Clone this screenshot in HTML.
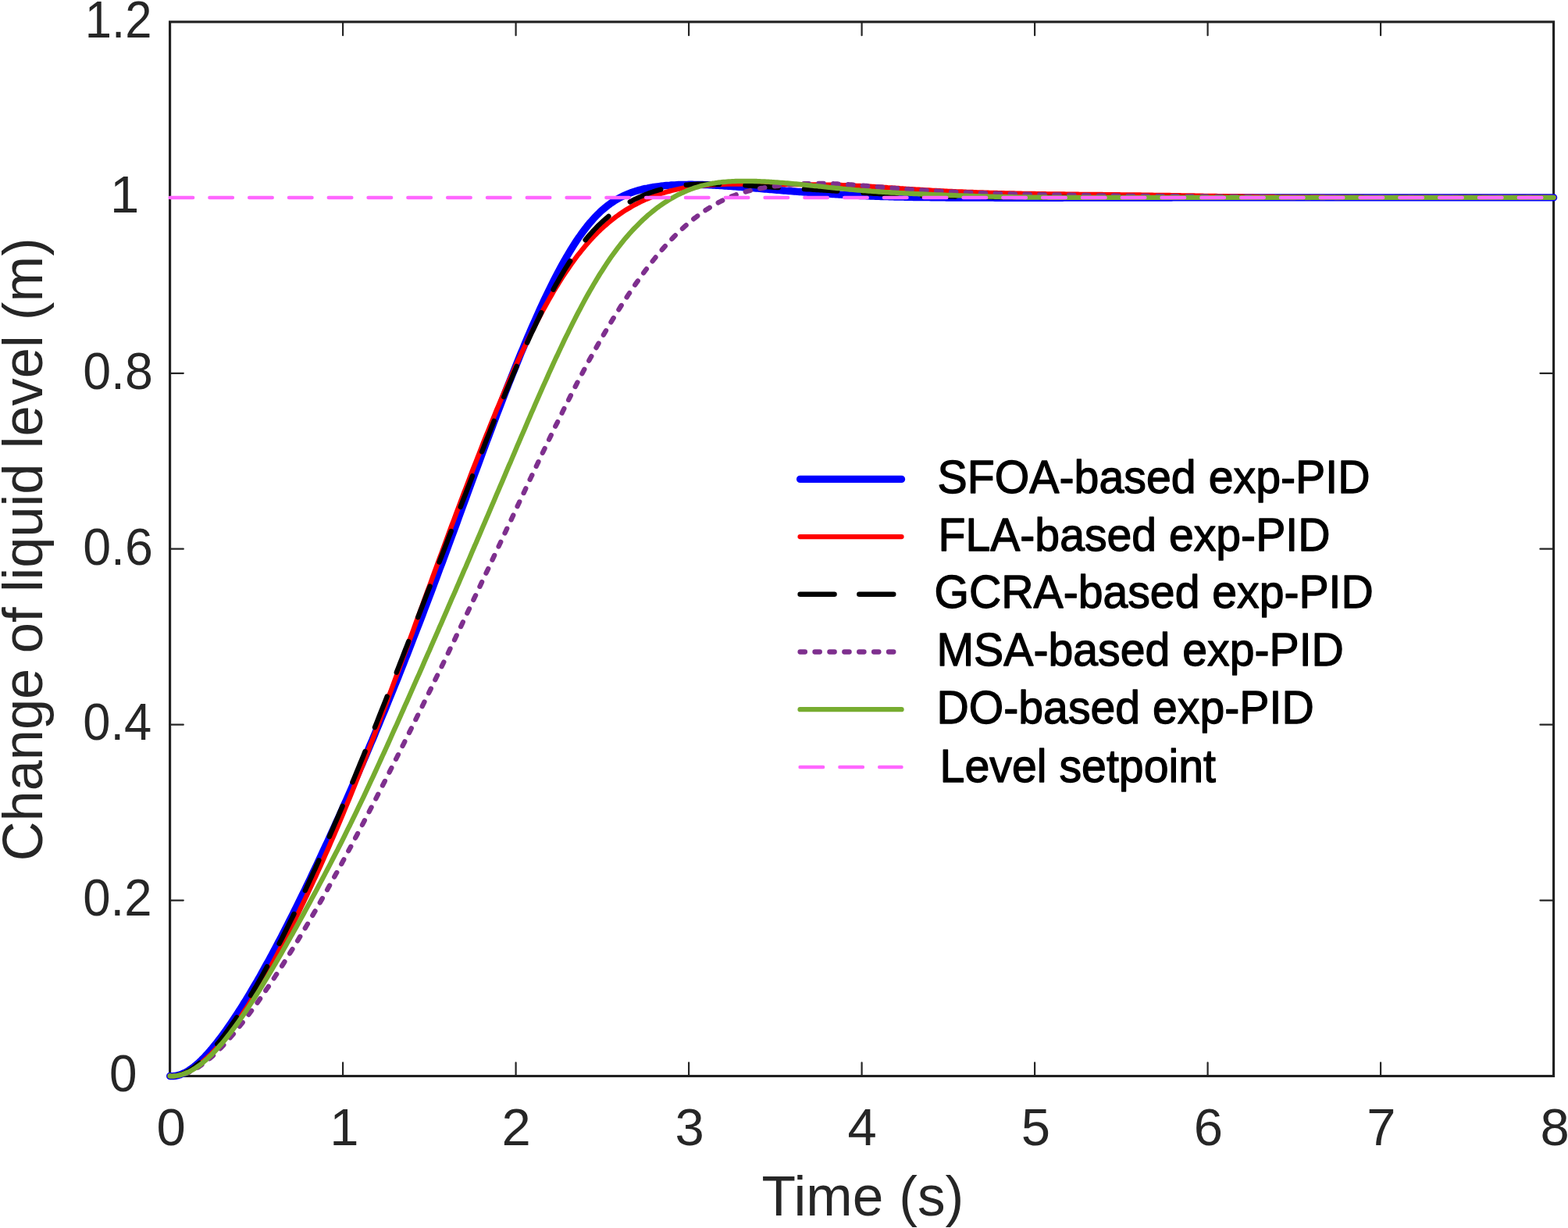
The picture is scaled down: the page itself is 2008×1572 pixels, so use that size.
<!DOCTYPE html>
<html><head><meta charset="utf-8"><title>Change of liquid level</title>
<style>html,body{margin:0;padding:0;background:#fff;}svg{display:block;}</style>
</head><body>
<svg width="2008" height="1572" viewBox="0 0 2008 1572">
<rect width="2008" height="1572" fill="#ffffff"/>
<path d="M217.6,1377.5 V1360.3 M217.6,28.0 V45.2 M439.1,1377.5 V1360.3 M439.1,28.0 V45.2 M660.6,1377.5 V1360.3 M660.6,28.0 V45.2 M882.1,1377.5 V1360.3 M882.1,28.0 V45.2 M1103.6,1377.5 V1360.3 M1103.6,28.0 V45.2 M1325.1,1377.5 V1360.3 M1325.1,28.0 V45.2 M1546.6,1377.5 V1360.3 M1546.6,28.0 V45.2 M1768.1,1377.5 V1360.3 M1768.1,28.0 V45.2 M1989.6,1377.5 V1360.3 M1989.6,28.0 V45.2 M217.6,1377.5 H234.8 M1989.6,1377.5 H1972.4 M217.6,1152.6 H234.8 M1989.6,1152.6 H1972.4 M217.6,927.7 H234.8 M1989.6,927.7 H1972.4 M217.6,702.7 H234.8 M1989.6,702.7 H1972.4 M217.6,477.8 H234.8 M1989.6,477.8 H1972.4 M217.6,252.9 H234.8 M1989.6,252.9 H1972.4 M217.6,28.0 H234.8 M1989.6,28.0 H1972.4" stroke="#262626" stroke-width="2.2" fill="none" stroke-linecap="round"/>
<rect x="217.6" y="28.0" width="1772.0" height="1349.5" fill="none" stroke="#1f1f1f" stroke-width="3.1"/>
<g fill="none" stroke-linecap="round" stroke-linejoin="round">
<path d="M217.6,1377.5 L219.8,1377.6 L222.0,1377.5 L224.2,1377.3 L226.5,1376.9 L228.7,1376.4 L230.9,1375.7 L233.1,1374.8 L235.3,1373.9 L237.5,1372.8 L239.8,1371.6 L242.0,1370.2 L244.2,1368.7 L246.4,1367.1 L248.6,1365.4 L250.8,1363.6 L253.0,1361.7 L255.3,1359.7 L257.5,1357.6 L259.7,1355.4 L261.9,1353.1 L264.1,1350.7 L266.3,1348.3 L268.5,1345.8 L270.8,1343.2 L273.0,1340.5 L275.2,1337.8 L277.4,1335.0 L279.6,1332.2 L281.8,1329.3 L284.1,1326.3 L286.3,1323.3 L288.5,1320.3 L290.7,1317.1 L292.9,1314.0 L295.1,1310.8 L297.3,1307.5 L299.6,1304.2 L301.8,1300.9 L304.0,1297.5 L306.2,1294.1 L308.4,1290.6 L310.6,1287.1 L312.8,1283.5 L315.1,1280.0 L317.3,1276.3 L319.5,1272.7 L321.7,1269.0 L323.9,1265.2 L326.1,1261.5 L328.4,1257.7 L330.6,1253.8 L332.8,1250.0 L335.0,1246.0 L337.2,1242.1 L339.4,1238.1 L341.6,1234.1 L343.9,1230.1 L346.1,1226.0 L348.3,1221.9 L350.5,1217.8 L352.7,1213.6 L354.9,1209.5 L357.1,1205.2 L359.4,1201.0 L361.6,1196.7 L363.8,1192.5 L366.0,1188.1 L368.2,1183.8 L370.4,1179.4 L372.6,1175.0 L374.9,1170.6 L377.1,1166.2 L379.3,1161.7 L381.5,1157.3 L383.7,1152.8 L385.9,1148.3 L388.2,1143.7 L390.4,1139.2 L392.6,1134.6 L394.8,1130.0 L397.0,1125.4 L399.2,1120.7 L401.4,1116.1 L403.7,1111.4 L405.9,1106.7 L408.1,1102.0 L410.3,1097.3 L412.5,1092.5 L414.7,1087.7 L416.9,1083.0 L419.2,1078.2 L421.4,1073.4 L423.6,1068.5 L425.8,1063.7 L428.0,1058.8 L430.2,1053.9 L432.5,1049.0 L434.7,1044.1 L436.9,1039.2 L439.1,1034.2 L441.3,1029.2 L443.5,1024.3 L445.7,1019.3 L448.0,1014.2 L450.2,1009.2 L452.4,1004.1 L454.6,999.1 L456.8,994.0 L459.0,988.9 L461.2,983.7 L463.5,978.6 L465.7,973.4 L467.9,968.3 L470.1,963.1 L472.3,957.9 L474.5,952.6 L476.8,947.4 L479.0,942.1 L481.2,936.8 L483.4,931.5 L485.6,926.2 L487.8,920.8 L490.0,915.5 L492.3,910.1 L494.5,904.7 L496.7,899.3 L498.9,893.8 L501.1,888.4 L503.3,882.9 L505.5,877.4 L507.8,871.9 L510.0,866.4 L512.2,860.8 L514.4,855.3 L516.6,849.7 L518.8,844.1 L521.1,838.4 L523.3,832.8 L525.5,827.1 L527.7,821.4 L529.9,815.7 L532.1,810.0 L534.3,804.3 L536.6,798.5 L538.8,792.8 L541.0,787.0 L543.2,781.2 L545.4,775.3 L547.6,769.5 L549.9,763.6 L552.1,757.8 L554.3,751.9 L556.5,746.0 L558.7,740.1 L560.9,734.1 L563.1,728.2 L565.4,722.3 L567.6,716.3 L569.8,710.3 L572.0,704.3 L574.2,698.3 L576.4,692.3 L578.6,686.3 L580.9,680.3 L583.1,674.3 L585.3,668.3 L587.5,662.2 L589.7,656.2 L591.9,650.2 L594.1,644.1 L596.4,638.1 L598.6,632.0 L600.8,626.0 L603.0,620.0 L605.2,613.9 L607.4,607.9 L609.7,601.9 L611.9,595.9 L614.1,589.9 L616.3,583.9 L618.5,578.0 L620.7,572.0 L622.9,566.0 L625.2,560.1 L627.4,554.2 L629.6,548.3 L631.8,542.4 L634.0,536.6 L636.2,530.7 L638.5,524.9 L640.7,519.1 L642.9,513.4 L645.1,507.6 L647.3,501.9 L649.5,496.3 L651.7,490.6 L654.0,485.0 L656.2,479.4 L658.4,473.9 L660.6,468.4 L662.8,462.9 L665.0,457.5 L667.2,452.1 L669.5,446.7 L671.7,441.4 L673.9,436.1 L676.1,430.9 L678.3,425.7 L680.5,420.6 L682.8,415.5 L685.0,410.5 L687.2,405.5 L689.4,400.6 L691.6,395.7 L693.8,390.9 L696.0,386.1 L698.3,381.4 L700.5,376.8 L702.7,372.2 L704.9,367.7 L707.1,363.3 L709.3,358.9 L711.5,354.6 L713.8,350.3 L716.0,346.1 L718.2,342.0 L720.4,338.0 L722.6,334.1 L724.8,330.2 L727.1,326.4 L729.3,322.7 L731.5,319.0 L733.7,315.5 L735.9,312.0 L738.1,308.6 L740.3,305.3 L742.6,302.1 L744.8,299.0 L747.0,296.0 L749.2,293.1 L751.4,290.2 L753.6,287.5 L755.8,284.8 L758.1,282.3 L760.3,279.8 L762.5,277.4 L764.7,275.1 L766.9,273.0 L769.1,270.8 L771.4,268.8 L773.6,266.9 L775.8,265.1 L778.0,263.3 L780.2,261.7 L782.4,260.1 L784.6,258.6 L786.9,257.1 L789.1,255.8 L791.3,254.5 L793.5,253.2 L795.7,252.1 L797.9,251.0 L800.1,250.0 L802.4,249.0 L804.6,248.1 L806.8,247.2 L809.0,246.4 L811.2,245.6 L813.4,244.9 L815.7,244.2 L817.9,243.6 L820.1,243.0 L822.3,242.4 L824.5,241.9 L826.7,241.4 L828.9,241.0 L831.2,240.5 L833.4,240.1 L835.6,239.7 L837.8,239.4 L840.0,239.1 L842.2,238.8 L844.4,238.5 L846.7,238.2 L848.9,238.0 L851.1,237.7 L853.3,237.5 L855.5,237.3 L857.7,237.2 L860.0,237.0 L862.2,236.9 L864.4,236.8 L866.6,236.6 L868.8,236.5 L871.0,236.5 L873.2,236.4 L875.5,236.3 L877.7,236.3 L879.9,236.3 L882.1,236.2 L884.3,236.2 L886.5,236.2 L888.7,236.3 L891.0,236.3 L893.2,236.3 L895.4,236.4 L897.6,236.4 L899.8,236.5 L902.0,236.6 L904.2,236.6 L906.5,236.7 L908.7,236.8 L910.9,236.9 L913.1,237.0 L915.3,237.1 L917.5,237.3 L919.8,237.4 L922.0,237.5 L924.2,237.7 L926.4,237.8 L928.6,238.0 L930.8,238.1 L933.0,238.3 L935.3,238.4 L937.5,238.6 L939.7,238.8 L941.9,238.9 L944.1,239.1 L946.3,239.3 L948.6,239.4 L950.8,239.6 L953.0,239.8 L955.2,240.0 L957.4,240.1 L959.6,240.3 L961.8,240.5 L964.1,240.7 L966.3,240.9 L968.5,241.1 L970.7,241.2 L972.9,241.4 L975.1,241.6 L977.3,241.8 L979.6,242.0 L981.8,242.2 L984.0,242.3 L986.2,242.5 L988.4,242.7 L990.6,242.9 L992.9,243.1 L995.1,243.3 L997.3,243.4 L999.5,243.6 L1001.7,243.8 L1003.9,244.0 L1006.1,244.2 L1008.4,244.3 L1010.6,244.5 L1012.8,244.7 L1015.0,244.9 L1017.2,245.0 L1019.4,245.2 L1021.6,245.4 L1023.9,245.5 L1026.1,245.7 L1028.3,245.9 L1030.5,246.0 L1032.7,246.2 L1034.9,246.4 L1037.2,246.5 L1039.4,246.7 L1041.6,246.9 L1043.8,247.0 L1046.0,247.2 L1048.2,247.3 L1050.4,247.5 L1052.7,247.6 L1054.9,247.8 L1057.1,247.9 L1059.3,248.1 L1061.5,248.2 L1063.7,248.4 L1065.9,248.5 L1068.2,248.7 L1070.4,248.8 L1072.6,248.9 L1074.8,249.1 L1077.0,249.2 L1079.2,249.3 L1081.5,249.4 L1083.7,249.6 L1085.9,249.7 L1088.1,249.8 L1090.3,249.9 L1092.5,250.0 L1094.7,250.1 L1097.0,250.3 L1099.2,250.4 L1101.4,250.5 L1103.6,250.6 L1105.8,250.7 L1108.0,250.7 L1110.2,250.8 L1112.5,250.9 L1114.7,251.0 L1116.9,251.1 L1119.1,251.2 L1121.3,251.3 L1123.5,251.3 L1125.8,251.4 L1128.0,251.5 L1130.2,251.5 L1132.4,251.6 L1134.6,251.7 L1136.8,251.7 L1139.0,251.8 L1141.3,251.9 L1143.5,251.9 L1145.7,252.0 L1147.9,252.0 L1150.1,252.1 L1152.3,252.1 L1154.5,252.2 L1156.8,252.2 L1159.0,252.3 L1161.2,252.3 L1163.4,252.3 L1165.6,252.4 L1167.8,252.4 L1170.0,252.5 L1172.3,252.5 L1174.5,252.5 L1176.7,252.6 L1178.9,252.6 L1181.1,252.6 L1183.3,252.7 L1185.6,252.7 L1187.8,252.7 L1190.0,252.7 L1192.2,252.8 L1194.4,252.8 L1196.6,252.8 L1198.8,252.8 L1201.1,252.9 L1203.3,252.9 L1205.5,252.9 L1207.7,252.9 L1209.9,252.9 L1212.1,253.0 L1214.3,253.0 L1216.6,253.0 L1218.8,253.0 L1221.0,253.0 L1223.2,253.0 L1225.4,253.1 L1227.6,253.1 L1229.9,253.1 L1232.1,253.1 L1234.3,253.1 L1236.5,253.1 L1238.7,253.1 L1240.9,253.1 L1243.1,253.2 L1245.4,253.2 L1247.6,253.2 L1249.8,253.2 L1252.0,253.2 L1254.2,253.2 L1256.4,253.2 L1258.6,253.2 L1260.9,253.2 L1263.1,253.2 L1265.3,253.2 L1267.5,253.2 L1269.7,253.2 L1271.9,253.2 L1274.2,253.3 L1276.4,253.3 L1278.6,253.3 L1280.8,253.3 L1283.0,253.3 L1285.2,253.3 L1287.4,253.3 L1289.7,253.3 L1291.9,253.3 L1294.1,253.3 L1296.3,253.3 L1298.5,253.3 L1300.7,253.3 L1303.0,253.3 L1305.2,253.3 L1307.4,253.3 L1309.6,253.3 L1311.8,253.3 L1314.0,253.3 L1316.2,253.3 L1318.5,253.3 L1320.7,253.3 L1322.9,253.3 L1325.1,253.3 L1327.3,253.3 L1329.5,253.3 L1331.7,253.3 L1334.0,253.3 L1336.2,253.3 L1338.4,253.3 L1340.6,253.3 L1342.8,253.3 L1345.0,253.3 L1347.2,253.3 L1349.5,253.3 L1351.7,253.3 L1353.9,253.3 L1356.1,253.3 L1358.3,253.3 L1360.5,253.3 L1362.8,253.2 L1365.0,253.2 L1367.2,253.2 L1369.4,253.2 L1371.6,253.2 L1373.8,253.2 L1376.0,253.2 L1378.3,253.2 L1380.5,253.2 L1382.7,253.2 L1384.9,253.2 L1387.1,253.2 L1389.3,253.2 L1391.5,253.2 L1393.8,253.2 L1396.0,253.2 L1398.2,253.2 L1400.4,253.2 L1402.6,253.2 L1404.8,253.2 L1407.1,253.2 L1409.3,253.2 L1411.5,253.1 L1413.7,253.1 L1415.9,253.1 L1418.1,253.1 L1420.3,253.1 L1422.6,253.1 L1424.8,253.1 L1427.0,253.1 L1429.2,253.1 L1431.4,253.1 L1433.6,253.1 L1435.8,253.1 L1438.1,253.1 L1440.3,253.1 L1442.5,253.1 L1444.7,253.1 L1446.9,253.1 L1449.1,253.1 L1451.4,253.1 L1453.6,253.0 L1455.8,253.0 L1458.0,253.0 L1460.2,253.0 L1462.4,253.0 L1464.6,253.0 L1466.9,253.0 L1469.1,253.0 L1471.3,253.0 L1473.5,253.0 L1475.7,253.0 L1477.9,253.0 L1480.1,253.0 L1482.4,253.0 L1484.6,253.0 L1486.8,253.0 L1489.0,253.0 L1491.2,253.0 L1493.4,253.0 L1495.7,253.0 L1497.9,253.0 L1500.1,253.0 L1502.3,252.9 L1504.5,252.9 L1506.7,252.9 L1508.9,252.9 L1511.2,252.9 L1513.4,252.9 L1515.6,252.9 L1517.8,252.9 L1520.0,252.9 L1522.2,252.9 L1524.5,252.9 L1526.7,252.9 L1528.9,252.9 L1531.1,252.9 L1533.3,252.9 L1535.5,252.9 L1537.7,252.9 L1540.0,252.9 L1542.2,252.9 L1544.4,252.9 L1546.6,252.9 L1548.8,252.9 L1551.0,252.9 L1553.2,252.9 L1555.5,252.9 L1557.7,252.9 L1559.9,252.9 L1562.1,252.9 L1564.3,252.9 L1566.5,252.9 L1568.8,252.9 L1571.0,252.9 L1573.2,252.9 L1575.4,252.9 L1577.6,252.9 L1579.8,252.9 L1582.0,252.9 L1584.3,252.9 L1586.5,252.9 L1588.7,252.9 L1590.9,252.9 L1593.1,252.9 L1595.3,252.9 L1597.5,252.9 L1599.8,252.9 L1602.0,252.9 L1604.2,252.9 L1606.4,252.9 L1608.6,252.9 L1610.8,252.9 L1613.0,252.9 L1615.3,252.9 L1617.5,252.9 L1619.7,252.9 L1621.9,252.9 L1624.1,252.9 L1626.3,252.9 L1628.6,252.9 L1630.8,252.9 L1633.0,252.9 L1635.2,252.9 L1637.4,252.9 L1639.6,252.9 L1641.8,252.9 L1644.1,252.9 L1646.3,252.9 L1648.5,252.9 L1650.7,252.9 L1652.9,252.9 L1655.1,252.9 L1657.3,252.9 L1659.6,252.9 L1661.8,252.9 L1664.0,252.9 L1666.2,252.9 L1668.4,252.9 L1670.6,252.9 L1672.9,252.9 L1675.1,252.9 L1677.3,252.9 L1679.5,252.9 L1681.7,252.9 L1683.9,252.9 L1686.1,252.9 L1688.4,252.9 L1690.6,252.9 L1692.8,252.9 L1695.0,252.9 L1697.2,252.9 L1699.4,252.9 L1701.6,252.9 L1703.9,252.9 L1706.1,252.9 L1708.3,252.9 L1710.5,252.9 L1712.7,252.9 L1714.9,252.9 L1717.2,252.9 L1719.4,252.9 L1721.6,252.9 L1723.8,252.9 L1726.0,252.9 L1728.2,252.9 L1730.4,252.9 L1732.7,252.9 L1734.9,252.9 L1737.1,252.9 L1739.3,252.9 L1741.5,252.9 L1743.7,252.9 L1746.0,252.9 L1748.2,252.9 L1750.4,252.9 L1752.6,252.9 L1754.8,252.9 L1757.0,252.9 L1759.2,252.9 L1761.5,252.9 L1763.7,252.9 L1765.9,252.9 L1768.1,252.9 L1770.3,252.9 L1772.5,252.9 L1774.7,252.9 L1777.0,252.9 L1779.2,252.9 L1781.4,252.9 L1783.6,252.9 L1785.8,252.9 L1788.0,252.9 L1790.2,252.9 L1792.5,252.9 L1794.7,252.9 L1796.9,252.9 L1799.1,252.9 L1801.3,252.9 L1803.5,252.9 L1805.8,252.9 L1808.0,252.9 L1810.2,252.9 L1812.4,252.9 L1814.6,252.9 L1816.8,252.9 L1819.0,252.9 L1821.3,252.9 L1823.5,252.9 L1825.7,252.9 L1827.9,252.9 L1830.1,252.9 L1832.3,252.9 L1834.5,252.9 L1836.8,252.9 L1839.0,252.9 L1841.2,252.9 L1843.4,252.9 L1845.6,252.9 L1847.8,252.9 L1850.1,252.9 L1852.3,252.9 L1854.5,252.9 L1856.7,252.9 L1858.9,252.9 L1861.1,252.9 L1863.3,252.9 L1865.6,252.9 L1867.8,252.9 L1870.0,252.9 L1872.2,252.9 L1874.4,252.9 L1876.6,252.9 L1878.8,252.9 L1881.1,252.9 L1883.3,252.9 L1885.5,252.9 L1887.7,252.9 L1889.9,252.9 L1892.1,252.9 L1894.4,252.9 L1896.6,252.9 L1898.8,252.9 L1901.0,252.9 L1903.2,252.9 L1905.4,252.9 L1907.6,252.9 L1909.9,252.9 L1912.1,252.9 L1914.3,252.9 L1916.5,252.9 L1918.7,252.9 L1920.9,252.9 L1923.1,252.9 L1925.4,252.9 L1927.6,252.9 L1929.8,252.9 L1932.0,252.9 L1934.2,252.9 L1936.4,252.9 L1938.7,252.9 L1940.9,252.9 L1943.1,252.9 L1945.3,252.9 L1947.5,252.9 L1949.7,252.9 L1951.9,252.9 L1954.2,252.9 L1956.4,252.9 L1958.6,252.9 L1960.8,252.9 L1963.0,252.9 L1965.2,252.9 L1967.5,252.9 L1969.7,252.9 L1971.9,252.9 L1974.1,252.9 L1976.3,252.9 L1978.5,252.9 L1980.7,252.9 L1983.0,252.9 L1985.2,252.9 L1987.4,252.9 L1989.6,252.9" stroke="#0000ff" stroke-width="9.3"/>
<path d="M217.6,1377.5 L219.8,1377.6 L222.0,1377.5 L224.2,1377.3 L226.5,1377.0 L228.7,1376.6 L230.9,1376.0 L233.1,1375.3 L235.3,1374.5 L237.5,1373.6 L239.8,1372.6 L242.0,1371.5 L244.2,1370.3 L246.4,1369.0 L248.6,1367.5 L250.8,1366.0 L253.0,1364.4 L255.3,1362.8 L257.5,1361.0 L259.7,1359.1 L261.9,1357.2 L264.1,1355.2 L266.3,1353.1 L268.5,1351.0 L270.8,1348.8 L273.0,1346.5 L275.2,1344.1 L277.4,1341.7 L279.6,1339.2 L281.8,1336.6 L284.1,1334.0 L286.3,1331.3 L288.5,1328.6 L290.7,1325.8 L292.9,1322.9 L295.1,1320.0 L297.3,1317.0 L299.6,1313.9 L301.8,1310.8 L304.0,1307.7 L306.2,1304.5 L308.4,1301.2 L310.6,1297.9 L312.8,1294.5 L315.1,1291.1 L317.3,1287.6 L319.5,1284.1 L321.7,1280.5 L323.9,1276.9 L326.1,1273.2 L328.4,1269.5 L330.6,1265.7 L332.8,1262.0 L335.0,1258.1 L337.2,1254.2 L339.4,1250.3 L341.6,1246.4 L343.9,1242.4 L346.1,1238.4 L348.3,1234.3 L350.5,1230.3 L352.7,1226.1 L354.9,1222.0 L357.1,1217.8 L359.4,1213.6 L361.6,1209.3 L363.8,1205.1 L366.0,1200.7 L368.2,1196.4 L370.4,1192.0 L372.6,1187.7 L374.9,1183.2 L377.1,1178.8 L379.3,1174.3 L381.5,1169.8 L383.7,1165.3 L385.9,1160.7 L388.2,1156.1 L390.4,1151.5 L392.6,1146.8 L394.8,1142.1 L397.0,1137.4 L399.2,1132.7 L401.4,1127.9 L403.7,1123.2 L405.9,1118.3 L408.1,1113.5 L410.3,1108.6 L412.5,1103.7 L414.7,1098.7 L416.9,1093.8 L419.2,1088.8 L421.4,1083.7 L423.6,1078.6 L425.8,1073.5 L428.0,1068.4 L430.2,1063.2 L432.5,1058.0 L434.7,1052.8 L436.9,1047.5 L439.1,1042.2 L441.3,1036.9 L443.5,1031.6 L445.7,1026.2 L448.0,1020.7 L450.2,1015.3 L452.4,1009.8 L454.6,1004.3 L456.8,998.7 L459.0,993.2 L461.2,987.6 L463.5,981.9 L465.7,976.3 L467.9,970.6 L470.1,964.9 L472.3,959.2 L474.5,953.4 L476.8,947.6 L479.0,941.9 L481.2,936.0 L483.4,930.2 L485.6,924.4 L487.8,918.5 L490.0,912.6 L492.3,906.7 L494.5,900.8 L496.7,894.9 L498.9,888.9 L501.1,883.0 L503.3,877.0 L505.5,871.0 L507.8,865.0 L510.0,859.0 L512.2,853.0 L514.4,847.0 L516.6,841.0 L518.8,835.0 L521.1,828.9 L523.3,822.9 L525.5,816.8 L527.7,810.8 L529.9,804.7 L532.1,798.7 L534.3,792.6 L536.6,786.6 L538.8,780.5 L541.0,774.5 L543.2,768.4 L545.4,762.4 L547.6,756.3 L549.9,750.3 L552.1,744.2 L554.3,738.2 L556.5,732.1 L558.7,726.1 L560.9,720.1 L563.1,714.1 L565.4,708.1 L567.6,702.1 L569.8,696.1 L572.0,690.1 L574.2,684.1 L576.4,678.1 L578.6,672.2 L580.9,666.3 L583.1,660.3 L585.3,654.4 L587.5,648.5 L589.7,642.6 L591.9,636.8 L594.1,630.9 L596.4,625.1 L598.6,619.3 L600.8,613.5 L603.0,607.7 L605.2,602.0 L607.4,596.3 L609.7,590.6 L611.9,584.9 L614.1,579.3 L616.3,573.6 L618.5,568.0 L620.7,562.5 L622.9,556.9 L625.2,551.4 L627.4,545.9 L629.6,540.5 L631.8,535.1 L634.0,529.7 L636.2,524.3 L638.5,519.0 L640.7,513.7 L642.9,508.5 L645.1,503.3 L647.3,498.1 L649.5,493.0 L651.7,487.9 L654.0,482.9 L656.2,477.9 L658.4,472.9 L660.6,468.0 L662.8,463.1 L665.0,458.3 L667.2,453.5 L669.5,448.8 L671.7,444.1 L673.9,439.5 L676.1,434.9 L678.3,430.4 L680.5,425.9 L682.8,421.4 L685.0,417.1 L687.2,412.7 L689.4,408.5 L691.6,404.3 L693.8,400.1 L696.0,396.0 L698.3,391.9 L700.5,387.9 L702.7,384.0 L704.9,380.1 L707.1,376.3 L709.3,372.5 L711.5,368.8 L713.8,365.2 L716.0,361.6 L718.2,358.1 L720.4,354.6 L722.6,351.2 L724.8,347.9 L727.1,344.6 L729.3,341.4 L731.5,338.2 L733.7,335.1 L735.9,332.1 L738.1,329.1 L740.3,326.2 L742.6,323.4 L744.8,320.6 L747.0,317.9 L749.2,315.2 L751.4,312.6 L753.6,310.1 L755.8,307.6 L758.1,305.2 L760.3,302.8 L762.5,300.6 L764.7,298.3 L766.9,296.1 L769.1,294.0 L771.4,291.9 L773.6,289.9 L775.8,288.0 L778.0,286.1 L780.2,284.2 L782.4,282.4 L784.6,280.7 L786.9,279.0 L789.1,277.3 L791.3,275.7 L793.5,274.1 L795.7,272.6 L797.9,271.1 L800.1,269.7 L802.4,268.3 L804.6,267.0 L806.8,265.7 L809.0,264.4 L811.2,263.1 L813.4,261.9 L815.7,260.8 L817.9,259.6 L820.1,258.5 L822.3,257.5 L824.5,256.4 L826.7,255.4 L828.9,254.5 L831.2,253.5 L833.4,252.6 L835.6,251.8 L837.8,250.9 L840.0,250.1 L842.2,249.3 L844.4,248.6 L846.7,247.8 L848.9,247.1 L851.1,246.5 L853.3,245.8 L855.5,245.2 L857.7,244.6 L860.0,244.0 L862.2,243.5 L864.4,243.0 L866.6,242.5 L868.8,242.0 L871.0,241.5 L873.2,241.1 L875.5,240.7 L877.7,240.3 L879.9,239.9 L882.1,239.6 L884.3,239.3 L886.5,238.9 L888.7,238.7 L891.0,238.4 L893.2,238.1 L895.4,237.9 L897.6,237.7 L899.8,237.4 L902.0,237.3 L904.2,237.1 L906.5,236.9 L908.7,236.7 L910.9,236.6 L913.1,236.5 L915.3,236.3 L917.5,236.2 L919.8,236.1 L922.0,236.0 L924.2,236.0 L926.4,235.9 L928.6,235.8 L930.8,235.7 L933.0,235.7 L935.3,235.7 L937.5,235.6 L939.7,235.6 L941.9,235.6 L944.1,235.5 L946.3,235.5 L948.6,235.5 L950.8,235.5 L953.0,235.5 L955.2,235.5 L957.4,235.5 L959.6,235.5 L961.8,235.5 L964.1,235.5 L966.3,235.5 L968.5,235.6 L970.7,235.6 L972.9,235.6 L975.1,235.6 L977.3,235.6 L979.6,235.7 L981.8,235.7 L984.0,235.7 L986.2,235.8 L988.4,235.8 L990.6,235.8 L992.9,235.8 L995.1,235.9 L997.3,235.9 L999.5,235.9 L1001.7,235.9 L1003.9,236.0 L1006.1,236.0 L1008.4,236.0 L1010.6,236.1 L1012.8,236.1 L1015.0,236.1 L1017.2,236.1 L1019.4,236.1 L1021.6,236.2 L1023.9,236.2 L1026.1,236.2 L1028.3,236.2 L1030.5,236.3 L1032.7,236.3 L1034.9,236.3 L1037.2,236.3 L1039.4,236.3 L1041.6,236.4 L1043.8,236.4 L1046.0,236.4 L1048.2,236.4 L1050.4,236.5 L1052.7,236.5 L1054.9,236.5 L1057.1,236.6 L1059.3,236.6 L1061.5,236.6 L1063.7,236.7 L1065.9,236.7 L1068.2,236.8 L1070.4,236.8 L1072.6,236.9 L1074.8,237.0 L1077.0,237.0 L1079.2,237.1 L1081.5,237.2 L1083.7,237.2 L1085.9,237.3 L1088.1,237.4 L1090.3,237.5 L1092.5,237.6 L1094.7,237.7 L1097.0,237.8 L1099.2,237.9 L1101.4,238.0 L1103.6,238.1 L1105.8,238.2 L1108.0,238.4 L1110.2,238.5 L1112.5,238.6 L1114.7,238.7 L1116.9,238.9 L1119.1,239.0 L1121.3,239.1 L1123.5,239.3 L1125.8,239.4 L1128.0,239.6 L1130.2,239.7 L1132.4,239.9 L1134.6,240.0 L1136.8,240.2 L1139.0,240.3 L1141.3,240.4 L1143.5,240.6 L1145.7,240.7 L1147.9,240.9 L1150.1,241.0 L1152.3,241.2 L1154.5,241.3 L1156.8,241.5 L1159.0,241.6 L1161.2,241.8 L1163.4,241.9 L1165.6,242.1 L1167.8,242.2 L1170.0,242.3 L1172.3,242.5 L1174.5,242.6 L1176.7,242.7 L1178.9,242.9 L1181.1,243.0 L1183.3,243.1 L1185.6,243.3 L1187.8,243.4 L1190.0,243.5 L1192.2,243.6 L1194.4,243.8 L1196.6,243.9 L1198.8,244.0 L1201.1,244.1 L1203.3,244.2 L1205.5,244.3 L1207.7,244.4 L1209.9,244.6 L1212.1,244.7 L1214.3,244.8 L1216.6,244.9 L1218.8,245.0 L1221.0,245.1 L1223.2,245.2 L1225.4,245.3 L1227.6,245.4 L1229.9,245.5 L1232.1,245.5 L1234.3,245.6 L1236.5,245.7 L1238.7,245.8 L1240.9,245.9 L1243.1,246.0 L1245.4,246.0 L1247.6,246.1 L1249.8,246.2 L1252.0,246.3 L1254.2,246.3 L1256.4,246.4 L1258.6,246.5 L1260.9,246.6 L1263.1,246.6 L1265.3,246.7 L1267.5,246.8 L1269.7,246.8 L1271.9,246.9 L1274.2,246.9 L1276.4,247.0 L1278.6,247.1 L1280.8,247.1 L1283.0,247.2 L1285.2,247.2 L1287.4,247.3 L1289.7,247.3 L1291.9,247.4 L1294.1,247.4 L1296.3,247.5 L1298.5,247.5 L1300.7,247.6 L1303.0,247.6 L1305.2,247.7 L1307.4,247.7 L1309.6,247.8 L1311.8,247.8 L1314.0,247.8 L1316.2,247.9 L1318.5,247.9 L1320.7,248.0 L1322.9,248.0 L1325.1,248.0 L1327.3,248.1 L1329.5,248.1 L1331.7,248.1 L1334.0,248.2 L1336.2,248.2 L1338.4,248.2 L1340.6,248.3 L1342.8,248.3 L1345.0,248.3 L1347.2,248.4 L1349.5,248.4 L1351.7,248.4 L1353.9,248.4 L1356.1,248.5 L1358.3,248.5 L1360.5,248.5 L1362.8,248.5 L1365.0,248.6 L1367.2,248.6 L1369.4,248.6 L1371.6,248.6 L1373.8,248.7 L1376.0,248.7 L1378.3,248.7 L1380.5,248.7 L1382.7,248.8 L1384.9,248.8 L1387.1,248.8 L1389.3,248.8 L1391.5,248.8 L1393.8,248.9 L1396.0,248.9 L1398.2,248.9 L1400.4,248.9 L1402.6,249.0 L1404.8,249.0 L1407.1,249.0 L1409.3,249.0 L1411.5,249.0 L1413.7,249.1 L1415.9,249.1 L1418.1,249.1 L1420.3,249.1 L1422.6,249.1 L1424.8,249.2 L1427.0,249.2 L1429.2,249.2 L1431.4,249.2 L1433.6,249.2 L1435.8,249.3 L1438.1,249.3 L1440.3,249.3 L1442.5,249.3 L1444.7,249.4 L1446.9,249.4 L1449.1,249.4 L1451.4,249.4 L1453.6,249.5 L1455.8,249.5 L1458.0,249.5 L1460.2,249.5 L1462.4,249.6 L1464.6,249.6 L1466.9,249.6 L1469.1,249.6 L1471.3,249.7 L1473.5,249.7 L1475.7,249.7 L1477.9,249.8 L1480.1,249.8 L1482.4,249.8 L1484.6,249.8 L1486.8,249.9 L1489.0,249.9 L1491.2,249.9 L1493.4,250.0 L1495.7,250.0 L1497.9,250.0 L1500.1,250.1 L1502.3,250.1 L1504.5,250.1 L1506.7,250.2 L1508.9,250.2 L1511.2,250.2 L1513.4,250.3 L1515.6,250.3 L1517.8,250.4 L1520.0,250.4 L1522.2,250.4 L1524.5,250.5 L1526.7,250.5 L1528.9,250.5 L1531.1,250.6 L1533.3,250.6 L1535.5,250.7 L1537.7,250.7 L1540.0,250.7 L1542.2,250.8 L1544.4,250.8 L1546.6,250.8 L1548.8,250.9 L1551.0,250.9 L1553.2,250.9 L1555.5,251.0 L1557.7,251.0 L1559.9,251.1 L1562.1,251.1 L1564.3,251.1 L1566.5,251.2 L1568.8,251.2 L1571.0,251.2 L1573.2,251.3 L1575.4,251.3 L1577.6,251.3 L1579.8,251.4 L1582.0,251.4 L1584.3,251.4 L1586.5,251.5 L1588.7,251.5 L1590.9,251.5 L1593.1,251.6 L1595.3,251.6 L1597.5,251.6 L1599.8,251.7 L1602.0,251.7 L1604.2,251.7 L1606.4,251.8 L1608.6,251.8 L1610.8,251.8 L1613.0,251.8 L1615.3,251.9 L1617.5,251.9 L1619.7,251.9 L1621.9,252.0 L1624.1,252.0 L1626.3,252.0 L1628.6,252.0 L1630.8,252.0 L1633.0,252.1 L1635.2,252.1 L1637.4,252.1 L1639.6,252.1 L1641.8,252.2 L1644.1,252.2 L1646.3,252.2 L1648.5,252.2 L1650.7,252.2 L1652.9,252.3 L1655.1,252.3 L1657.3,252.3 L1659.6,252.3 L1661.8,252.3 L1664.0,252.3 L1666.2,252.4 L1668.4,252.4 L1670.6,252.4 L1672.9,252.4 L1675.1,252.4 L1677.3,252.4 L1679.5,252.5 L1681.7,252.5 L1683.9,252.5 L1686.1,252.5 L1688.4,252.5 L1690.6,252.5 L1692.8,252.5 L1695.0,252.5 L1697.2,252.6 L1699.4,252.6 L1701.6,252.6 L1703.9,252.6 L1706.1,252.6 L1708.3,252.6 L1710.5,252.6 L1712.7,252.6 L1714.9,252.6 L1717.2,252.7 L1719.4,252.7 L1721.6,252.7 L1723.8,252.7 L1726.0,252.7 L1728.2,252.7 L1730.4,252.7 L1732.7,252.7 L1734.9,252.7 L1737.1,252.7 L1739.3,252.7 L1741.5,252.7 L1743.7,252.7 L1746.0,252.8 L1748.2,252.8 L1750.4,252.8 L1752.6,252.8 L1754.8,252.8 L1757.0,252.8 L1759.2,252.8 L1761.5,252.8 L1763.7,252.8 L1765.9,252.8 L1768.1,252.8 L1770.3,252.8 L1772.5,252.8 L1774.7,252.8 L1777.0,252.8 L1779.2,252.8 L1781.4,252.9 L1783.6,252.9 L1785.8,252.9 L1788.0,252.9 L1790.2,252.9 L1792.5,252.9 L1794.7,252.9 L1796.9,252.9 L1799.1,252.9 L1801.3,252.9 L1803.5,252.9 L1805.8,252.9 L1808.0,252.9 L1810.2,252.9 L1812.4,252.9 L1814.6,252.9 L1816.8,252.9 L1819.0,252.9 L1821.3,252.9 L1823.5,252.9 L1825.7,252.9 L1827.9,252.9 L1830.1,252.9 L1832.3,252.9 L1834.5,252.9 L1836.8,252.9 L1839.0,252.9 L1841.2,252.9 L1843.4,252.9 L1845.6,252.9 L1847.8,252.9 L1850.1,252.9 L1852.3,252.9 L1854.5,252.9 L1856.7,252.9 L1858.9,252.9 L1861.1,252.9 L1863.3,252.9 L1865.6,252.9 L1867.8,252.9 L1870.0,252.9 L1872.2,252.9 L1874.4,252.9 L1876.6,252.9 L1878.8,252.9 L1881.1,252.9 L1883.3,252.9 L1885.5,252.9 L1887.7,252.9 L1889.9,252.9 L1892.1,252.9 L1894.4,252.9 L1896.6,252.9 L1898.8,252.9 L1901.0,252.9 L1903.2,252.9 L1905.4,252.9 L1907.6,252.9 L1909.9,252.9 L1912.1,252.9 L1914.3,252.9 L1916.5,252.9 L1918.7,252.9 L1920.9,252.9 L1923.1,252.9 L1925.4,252.9 L1927.6,252.9 L1929.8,252.9 L1932.0,252.9 L1934.2,252.9 L1936.4,252.9 L1938.7,252.9 L1940.9,252.9 L1943.1,252.9 L1945.3,252.9 L1947.5,252.9 L1949.7,252.9 L1951.9,252.9 L1954.2,252.9 L1956.4,252.9 L1958.6,252.9 L1960.8,252.9 L1963.0,252.9 L1965.2,252.9 L1967.5,252.9 L1969.7,252.9 L1971.9,252.9 L1974.1,252.9 L1976.3,252.9 L1978.5,252.9 L1980.7,252.9 L1983.0,252.9 L1985.2,252.9 L1987.4,252.9 L1989.6,252.9" stroke="#ff0000" stroke-width="6.3"/>
<path d="M217.6,1377.5 L219.8,1377.6 L222.0,1377.5 L224.2,1377.3 L226.5,1376.9 L228.7,1376.4 L230.9,1375.8 L233.1,1375.0 L235.3,1374.2 L237.5,1373.1 L239.8,1372.0 L242.0,1370.7 L244.2,1369.4 L246.4,1367.9 L248.6,1366.3 L250.8,1364.6 L253.0,1362.8 L255.3,1360.9 L257.5,1359.0 L259.7,1356.9 L261.9,1354.8 L264.1,1352.5 L266.3,1350.2 L268.5,1347.8 L270.8,1345.4 L273.0,1342.9 L275.2,1340.3 L277.4,1337.6 L279.6,1334.9 L281.8,1332.2 L284.1,1329.3 L286.3,1326.4 L288.5,1323.5 L290.7,1320.5 L292.9,1317.4 L295.1,1314.3 L297.3,1311.1 L299.6,1307.9 L301.8,1304.7 L304.0,1301.4 L306.2,1298.0 L308.4,1294.6 L310.6,1291.1 L312.8,1287.6 L315.1,1284.1 L317.3,1280.5 L319.5,1276.9 L321.7,1273.2 L323.9,1269.5 L326.1,1265.7 L328.4,1261.9 L330.6,1258.0 L332.8,1254.2 L335.0,1250.2 L337.2,1246.3 L339.4,1242.2 L341.6,1238.2 L343.9,1234.1 L346.1,1230.0 L348.3,1225.8 L350.5,1221.6 L352.7,1217.4 L354.9,1213.2 L357.1,1208.9 L359.4,1204.5 L361.6,1200.2 L363.8,1195.8 L366.0,1191.4 L368.2,1186.9 L370.4,1182.4 L372.6,1177.9 L374.9,1173.4 L377.1,1168.8 L379.3,1164.2 L381.5,1159.5 L383.7,1154.9 L385.9,1150.2 L388.2,1145.5 L390.4,1140.8 L392.6,1136.0 L394.8,1131.2 L397.0,1126.4 L399.2,1121.6 L401.4,1116.7 L403.7,1111.8 L405.9,1106.9 L408.1,1102.0 L410.3,1097.0 L412.5,1092.0 L414.7,1087.0 L416.9,1082.0 L419.2,1077.0 L421.4,1071.9 L423.6,1066.8 L425.8,1061.7 L428.0,1056.6 L430.2,1051.5 L432.5,1046.3 L434.7,1041.1 L436.9,1035.9 L439.1,1030.7 L441.3,1025.5 L443.5,1020.2 L445.7,1014.9 L448.0,1009.6 L450.2,1004.3 L452.4,999.0 L454.6,993.6 L456.8,988.3 L459.0,982.9 L461.2,977.5 L463.5,972.0 L465.7,966.6 L467.9,961.2 L470.1,955.7 L472.3,950.2 L474.5,944.7 L476.8,939.2 L479.0,933.7 L481.2,928.1 L483.4,922.6 L485.6,917.0 L487.8,911.4 L490.0,905.9 L492.3,900.3 L494.5,894.6 L496.7,889.0 L498.9,883.4 L501.1,877.8 L503.3,872.1 L505.5,866.4 L507.8,860.8 L510.0,855.1 L512.2,849.4 L514.4,843.8 L516.6,838.1 L518.8,832.4 L521.1,826.7 L523.3,821.0 L525.5,815.3 L527.7,809.6 L529.9,803.9 L532.1,798.2 L534.3,792.5 L536.6,786.8 L538.8,781.0 L541.0,775.3 L543.2,769.6 L545.4,763.9 L547.6,758.1 L549.9,752.4 L552.1,746.7 L554.3,741.0 L556.5,735.2 L558.7,729.5 L560.9,723.7 L563.1,718.0 L565.4,712.2 L567.6,706.5 L569.8,700.8 L572.0,695.0 L574.2,689.2 L576.4,683.5 L578.6,677.7 L580.9,672.0 L583.1,666.2 L585.3,660.5 L587.5,654.7 L589.7,649.0 L591.9,643.2 L594.1,637.5 L596.4,631.7 L598.6,626.0 L600.8,620.3 L603.0,614.6 L605.2,608.8 L607.4,603.1 L609.7,597.4 L611.9,591.7 L614.1,586.1 L616.3,580.4 L618.5,574.8 L620.7,569.1 L622.9,563.5 L625.2,557.9 L627.4,552.3 L629.6,546.7 L631.8,541.2 L634.0,535.7 L636.2,530.2 L638.5,524.7 L640.7,519.2 L642.9,513.8 L645.1,508.4 L647.3,503.0 L649.5,497.7 L651.7,492.4 L654.0,487.1 L656.2,481.8 L658.4,476.6 L660.6,471.5 L662.8,466.3 L665.0,461.2 L667.2,456.2 L669.5,451.2 L671.7,446.2 L673.9,441.2 L676.1,436.4 L678.3,431.5 L680.5,426.7 L682.8,422.0 L685.0,417.3 L687.2,412.6 L689.4,408.1 L691.6,403.5 L693.8,399.0 L696.0,394.6 L698.3,390.2 L700.5,385.9 L702.7,381.6 L704.9,377.4 L707.1,373.3 L709.3,369.2 L711.5,365.2 L713.8,361.3 L716.0,357.4 L718.2,353.6 L720.4,349.8 L722.6,346.2 L724.8,342.6 L727.1,339.0 L729.3,335.6 L731.5,332.2 L733.7,328.9 L735.9,325.6 L738.1,322.4 L740.3,319.4 L742.6,316.3 L744.8,313.4 L747.0,310.5 L749.2,307.8 L751.4,305.0 L753.6,302.4 L755.8,299.9 L758.1,297.4 L760.3,294.9 L762.5,292.6 L764.7,290.3 L766.9,288.1 L769.1,286.0 L771.4,283.9 L773.6,281.9 L775.8,280.0 L778.0,278.1 L780.2,276.2 L782.4,274.5 L784.6,272.8 L786.9,271.1 L789.1,269.5 L791.3,268.0 L793.5,266.4 L795.7,265.0 L797.9,263.6 L800.1,262.2 L802.4,260.9 L804.6,259.6 L806.8,258.4 L809.0,257.2 L811.2,256.0 L813.4,254.9 L815.7,253.9 L817.9,252.8 L820.1,251.8 L822.3,250.8 L824.5,249.9 L826.7,249.0 L828.9,248.2 L831.2,247.3 L833.4,246.5 L835.6,245.8 L837.8,245.0 L840.0,244.3 L842.2,243.7 L844.4,243.0 L846.7,242.4 L848.9,241.9 L851.1,241.3 L853.3,240.8 L855.5,240.3 L857.7,239.8 L860.0,239.4 L862.2,239.0 L864.4,238.6 L866.6,238.3 L868.8,237.9 L871.0,237.6 L873.2,237.4 L875.5,237.1 L877.7,236.9 L879.9,236.7 L882.1,236.5 L884.3,236.3 L886.5,236.2 L888.7,236.0 L891.0,235.9 L893.2,235.8 L895.4,235.7 L897.6,235.7 L899.8,235.6 L902.0,235.6 L904.2,235.6 L906.5,235.6 L908.7,235.6 L910.9,235.6 L913.1,235.6 L915.3,235.6 L917.5,235.7 L919.8,235.7 L922.0,235.8 L924.2,235.8 L926.4,235.9 L928.6,236.0 L930.8,236.1 L933.0,236.2 L935.3,236.3 L937.5,236.4 L939.7,236.5 L941.9,236.6 L944.1,236.7 L946.3,236.9 L948.6,237.0 L950.8,237.1 L953.0,237.2 L955.2,237.4 L957.4,237.5 L959.6,237.7 L961.8,237.8 L964.1,237.9 L966.3,238.1 L968.5,238.2 L970.7,238.4 L972.9,238.5 L975.1,238.7 L977.3,238.8 L979.6,239.0 L981.8,239.1 L984.0,239.2 L986.2,239.4 L988.4,239.5 L990.6,239.7 L992.9,239.8 L995.1,240.0 L997.3,240.1 L999.5,240.2 L1001.7,240.4 L1003.9,240.5 L1006.1,240.6 L1008.4,240.8 L1010.6,240.9 L1012.8,241.0 L1015.0,241.2 L1017.2,241.3 L1019.4,241.4 L1021.6,241.5 L1023.9,241.7 L1026.1,241.8 L1028.3,241.9 L1030.5,242.1 L1032.7,242.2 L1034.9,242.3 L1037.2,242.4 L1039.4,242.6 L1041.6,242.7 L1043.8,242.8 L1046.0,243.0 L1048.2,243.1 L1050.4,243.2 L1052.7,243.4 L1054.9,243.5 L1057.1,243.6 L1059.3,243.8 L1061.5,243.9 L1063.7,244.0 L1065.9,244.2 L1068.2,244.3 L1070.4,244.5 L1072.6,244.6 L1074.8,244.8 L1077.0,244.9 L1079.2,245.0 L1081.5,245.2 L1083.7,245.3 L1085.9,245.5 L1088.1,245.6 L1090.3,245.8 L1092.5,245.9 L1094.7,246.1 L1097.0,246.2 L1099.2,246.4 L1101.4,246.5 L1103.6,246.7 L1105.8,246.8 L1108.0,247.0 L1110.2,247.1 L1112.5,247.3 L1114.7,247.4 L1116.9,247.5 L1119.1,247.7 L1121.3,247.8 L1123.5,247.9 L1125.8,248.1 L1128.0,248.2 L1130.2,248.3 L1132.4,248.4 L1134.6,248.6 L1136.8,248.7 L1139.0,248.8 L1141.3,248.9 L1143.5,249.0 L1145.7,249.1 L1147.9,249.2 L1150.1,249.3 L1152.3,249.4 L1154.5,249.5 L1156.8,249.6 L1159.0,249.7 L1161.2,249.8 L1163.4,249.9 L1165.6,250.0 L1167.8,250.0 L1170.0,250.1 L1172.3,250.2 L1174.5,250.3 L1176.7,250.3 L1178.9,250.4 L1181.1,250.5 L1183.3,250.6 L1185.6,250.6 L1187.8,250.7 L1190.0,250.7 L1192.2,250.8 L1194.4,250.9 L1196.6,250.9 L1198.8,251.0 L1201.1,251.0 L1203.3,251.1 L1205.5,251.1 L1207.7,251.2 L1209.9,251.2 L1212.1,251.3 L1214.3,251.3 L1216.6,251.4 L1218.8,251.4 L1221.0,251.4 L1223.2,251.5 L1225.4,251.5 L1227.6,251.6 L1229.9,251.6 L1232.1,251.6 L1234.3,251.7 L1236.5,251.7 L1238.7,251.7 L1240.9,251.8 L1243.1,251.8 L1245.4,251.8 L1247.6,251.9 L1249.8,251.9 L1252.0,251.9 L1254.2,252.0 L1256.4,252.0 L1258.6,252.0 L1260.9,252.0 L1263.1,252.1 L1265.3,252.1 L1267.5,252.1 L1269.7,252.1 L1271.9,252.2 L1274.2,252.2 L1276.4,252.2 L1278.6,252.2 L1280.8,252.2 L1283.0,252.3 L1285.2,252.3 L1287.4,252.3 L1289.7,252.3 L1291.9,252.4 L1294.1,252.4 L1296.3,252.4 L1298.5,252.4 L1300.7,252.4 L1303.0,252.4 L1305.2,252.5 L1307.4,252.5 L1309.6,252.5 L1311.8,252.5 L1314.0,252.5 L1316.2,252.5 L1318.5,252.6 L1320.7,252.6 L1322.9,252.6 L1325.1,252.6 L1327.3,252.6 L1329.5,252.6 L1331.7,252.7 L1334.0,252.7 L1336.2,252.7 L1338.4,252.7 L1340.6,252.7 L1342.8,252.7 L1345.0,252.7 L1347.2,252.7 L1349.5,252.8 L1351.7,252.8 L1353.9,252.8 L1356.1,252.8 L1358.3,252.8 L1360.5,252.8 L1362.8,252.8 L1365.0,252.8 L1367.2,252.8 L1369.4,252.8 L1371.6,252.8 L1373.8,252.9 L1376.0,252.9 L1378.3,252.9 L1380.5,252.9 L1382.7,252.9 L1384.9,252.9 L1387.1,252.9 L1389.3,252.9 L1391.5,252.9 L1393.8,252.9 L1396.0,252.9 L1398.2,252.9 L1400.4,252.9 L1402.6,252.9 L1404.8,252.9 L1407.1,252.9 L1409.3,252.9 L1411.5,252.9 L1413.7,252.9 L1415.9,252.9 L1418.1,252.9 L1420.3,252.9 L1422.6,252.9 L1424.8,252.9 L1427.0,252.9 L1429.2,252.9 L1431.4,252.9 L1433.6,252.9 L1435.8,252.9 L1438.1,252.9 L1440.3,252.9 L1442.5,252.9 L1444.7,252.9 L1446.9,252.9 L1449.1,252.9 L1451.4,252.9 L1453.6,252.9 L1455.8,252.9 L1458.0,252.9 L1460.2,252.9 L1462.4,252.9 L1464.6,252.9 L1466.9,252.9 L1469.1,252.9 L1471.3,252.9 L1473.5,252.9 L1475.7,252.9 L1477.9,252.9 L1480.1,252.9 L1482.4,252.9 L1484.6,252.9 L1486.8,252.9 L1489.0,252.9 L1491.2,252.9 L1493.4,252.9 L1495.7,252.9 L1497.9,252.9 L1500.1,252.9 L1502.3,252.9 L1504.5,252.9 L1506.7,252.9 L1508.9,252.9 L1511.2,252.9 L1513.4,252.9 L1515.6,252.9 L1517.8,252.9 L1520.0,252.9 L1522.2,252.9 L1524.5,252.9 L1526.7,252.9 L1528.9,252.9 L1531.1,252.9 L1533.3,252.9 L1535.5,252.9 L1537.7,252.9 L1540.0,252.9 L1542.2,252.9 L1544.4,252.9 L1546.6,252.9 L1548.8,252.9 L1551.0,252.9 L1553.2,252.9 L1555.5,252.9 L1557.7,252.9 L1559.9,252.9 L1562.1,252.9 L1564.3,252.9 L1566.5,252.9 L1568.8,252.9 L1571.0,252.9 L1573.2,252.9 L1575.4,252.9 L1577.6,252.9 L1579.8,252.9 L1582.0,252.9 L1584.3,252.9 L1586.5,252.9 L1588.7,252.9 L1590.9,252.9 L1593.1,252.9 L1595.3,252.9 L1597.5,252.9 L1599.8,252.9 L1602.0,252.9 L1604.2,252.9 L1606.4,252.9 L1608.6,252.9 L1610.8,252.9 L1613.0,252.9 L1615.3,252.9 L1617.5,252.9 L1619.7,252.9 L1621.9,252.9 L1624.1,252.9 L1626.3,252.9 L1628.6,252.9 L1630.8,252.9 L1633.0,252.9 L1635.2,252.9 L1637.4,252.9 L1639.6,252.9 L1641.8,252.9 L1644.1,252.9 L1646.3,252.9 L1648.5,252.9 L1650.7,252.9 L1652.9,252.9 L1655.1,252.9 L1657.3,252.9 L1659.6,252.9 L1661.8,252.9 L1664.0,252.9 L1666.2,252.9 L1668.4,252.9 L1670.6,252.9 L1672.9,252.9 L1675.1,252.9 L1677.3,252.9 L1679.5,252.9 L1681.7,252.9 L1683.9,252.9 L1686.1,252.9 L1688.4,252.9 L1690.6,252.9 L1692.8,252.9 L1695.0,252.9 L1697.2,252.9 L1699.4,252.9 L1701.6,252.9 L1703.9,252.9 L1706.1,252.9 L1708.3,252.9 L1710.5,252.9 L1712.7,252.9 L1714.9,252.9 L1717.2,252.9 L1719.4,252.9 L1721.6,252.9 L1723.8,252.9 L1726.0,252.9 L1728.2,252.9 L1730.4,252.9 L1732.7,252.9 L1734.9,252.9 L1737.1,252.9 L1739.3,252.9 L1741.5,252.9 L1743.7,252.9 L1746.0,252.9 L1748.2,252.9 L1750.4,252.9 L1752.6,252.9 L1754.8,252.9 L1757.0,252.9 L1759.2,252.9 L1761.5,252.9 L1763.7,252.9 L1765.9,252.9 L1768.1,252.9 L1770.3,252.9 L1772.5,252.9 L1774.7,252.9 L1777.0,252.9 L1779.2,252.9 L1781.4,252.9 L1783.6,252.9 L1785.8,252.9 L1788.0,252.9 L1790.2,252.9 L1792.5,252.9 L1794.7,252.9 L1796.9,252.9 L1799.1,252.9 L1801.3,252.9 L1803.5,252.9 L1805.8,252.9 L1808.0,252.9 L1810.2,252.9 L1812.4,252.9 L1814.6,252.9 L1816.8,252.9 L1819.0,252.9 L1821.3,252.9 L1823.5,252.9 L1825.7,252.9 L1827.9,252.9 L1830.1,252.9 L1832.3,252.9 L1834.5,252.9 L1836.8,252.9 L1839.0,252.9 L1841.2,252.9 L1843.4,252.9 L1845.6,252.9 L1847.8,252.9 L1850.1,252.9 L1852.3,252.9 L1854.5,252.9 L1856.7,252.9 L1858.9,252.9 L1861.1,252.9 L1863.3,252.9 L1865.6,252.9 L1867.8,252.9 L1870.0,252.9 L1872.2,252.9 L1874.4,252.9 L1876.6,252.9 L1878.8,252.9 L1881.1,252.9 L1883.3,252.9 L1885.5,252.9 L1887.7,252.9 L1889.9,252.9 L1892.1,252.9 L1894.4,252.9 L1896.6,252.9 L1898.8,252.9 L1901.0,252.9 L1903.2,252.9 L1905.4,252.9 L1907.6,252.9 L1909.9,252.9 L1912.1,252.9 L1914.3,252.9 L1916.5,252.9 L1918.7,252.9 L1920.9,252.9 L1923.1,252.9 L1925.4,252.9 L1927.6,252.9 L1929.8,252.9 L1932.0,252.9 L1934.2,252.9 L1936.4,252.9 L1938.7,252.9 L1940.9,252.9 L1943.1,252.9 L1945.3,252.9 L1947.5,252.9 L1949.7,252.9 L1951.9,252.9 L1954.2,252.9 L1956.4,252.9 L1958.6,252.9 L1960.8,252.9 L1963.0,252.9 L1965.2,252.9 L1967.5,252.9 L1969.7,252.9 L1971.9,252.9 L1974.1,252.9 L1976.3,252.9 L1978.5,252.9 L1980.7,252.9 L1983.0,252.9 L1985.2,252.9 L1987.4,252.9 L1989.6,252.9" stroke="#000000" stroke-width="6.4" stroke-dasharray="42.5 33.2"/>
<path d="M217.6,1377.5 L219.8,1377.6 L222.0,1377.5 L224.2,1377.3 L226.5,1377.1 L228.7,1376.7 L230.9,1376.3 L233.1,1375.7 L235.3,1375.1 L237.5,1374.3 L239.8,1373.5 L242.0,1372.6 L244.2,1371.6 L246.4,1370.5 L248.6,1369.3 L250.8,1368.0 L253.0,1366.6 L255.3,1365.2 L257.5,1363.7 L259.7,1362.1 L261.9,1360.4 L264.1,1358.7 L266.3,1356.9 L268.5,1355.0 L270.8,1353.1 L273.0,1351.1 L275.2,1349.0 L277.4,1346.9 L279.6,1344.7 L281.8,1342.5 L284.1,1340.2 L286.3,1337.8 L288.5,1335.4 L290.7,1333.0 L292.9,1330.5 L295.1,1328.0 L297.3,1325.4 L299.6,1322.8 L301.8,1320.1 L304.0,1317.4 L306.2,1314.6 L308.4,1311.8 L310.6,1309.0 L312.8,1306.1 L315.1,1303.2 L317.3,1300.3 L319.5,1297.4 L321.7,1294.4 L323.9,1291.3 L326.1,1288.3 L328.4,1285.2 L330.6,1282.1 L332.8,1278.9 L335.0,1275.7 L337.2,1272.5 L339.4,1269.3 L341.6,1266.0 L343.9,1262.8 L346.1,1259.5 L348.3,1256.1 L350.5,1252.8 L352.7,1249.4 L354.9,1246.0 L357.1,1242.6 L359.4,1239.1 L361.6,1235.7 L363.8,1232.2 L366.0,1228.7 L368.2,1225.1 L370.4,1221.6 L372.6,1218.0 L374.9,1214.4 L377.1,1210.8 L379.3,1207.2 L381.5,1203.6 L383.7,1199.9 L385.9,1196.2 L388.2,1192.5 L390.4,1188.8 L392.6,1185.0 L394.8,1181.3 L397.0,1177.5 L399.2,1173.7 L401.4,1169.9 L403.7,1166.1 L405.9,1162.2 L408.1,1158.4 L410.3,1154.5 L412.5,1150.6 L414.7,1146.7 L416.9,1142.7 L419.2,1138.8 L421.4,1134.8 L423.6,1130.8 L425.8,1126.9 L428.0,1122.8 L430.2,1118.8 L432.5,1114.8 L434.7,1110.7 L436.9,1106.7 L439.1,1102.6 L441.3,1098.5 L443.5,1094.4 L445.7,1090.3 L448.0,1086.1 L450.2,1082.0 L452.4,1077.8 L454.6,1073.6 L456.8,1069.5 L459.0,1065.3 L461.2,1061.1 L463.5,1056.8 L465.7,1052.6 L467.9,1048.4 L470.1,1044.1 L472.3,1039.9 L474.5,1035.6 L476.8,1031.3 L479.0,1027.0 L481.2,1022.7 L483.4,1018.4 L485.6,1014.1 L487.8,1009.8 L490.0,1005.4 L492.3,1001.1 L494.5,996.7 L496.7,992.4 L498.9,988.0 L501.1,983.6 L503.3,979.2 L505.5,974.8 L507.8,970.4 L510.0,966.0 L512.2,961.6 L514.4,957.2 L516.6,952.8 L518.8,948.3 L521.1,943.9 L523.3,939.4 L525.5,935.0 L527.7,930.5 L529.9,926.1 L532.1,921.6 L534.3,917.1 L536.6,912.6 L538.8,908.1 L541.0,903.6 L543.2,899.1 L545.4,894.6 L547.6,890.1 L549.9,885.5 L552.1,881.0 L554.3,876.5 L556.5,871.9 L558.7,867.4 L560.9,862.8 L563.1,858.2 L565.4,853.7 L567.6,849.1 L569.8,844.5 L572.0,839.9 L574.2,835.3 L576.4,830.7 L578.6,826.1 L580.9,821.5 L583.1,816.9 L585.3,812.2 L587.5,807.6 L589.7,803.0 L591.9,798.3 L594.1,793.7 L596.4,789.0 L598.6,784.3 L600.8,779.7 L603.0,775.0 L605.2,770.3 L607.4,765.7 L609.7,761.0 L611.9,756.3 L614.1,751.6 L616.3,746.9 L618.5,742.2 L620.7,737.5 L622.9,732.8 L625.2,728.1 L627.4,723.4 L629.6,718.6 L631.8,713.9 L634.0,709.2 L636.2,704.5 L638.5,699.7 L640.7,695.0 L642.9,690.3 L645.1,685.5 L647.3,680.8 L649.5,676.1 L651.7,671.4 L654.0,666.6 L656.2,661.9 L658.4,657.2 L660.6,652.4 L662.8,647.7 L665.0,643.0 L667.2,638.3 L669.5,633.5 L671.7,628.8 L673.9,624.1 L676.1,619.4 L678.3,614.7 L680.5,610.0 L682.8,605.3 L685.0,600.6 L687.2,596.0 L689.4,591.3 L691.6,586.6 L693.8,582.0 L696.0,577.3 L698.3,572.7 L700.5,568.1 L702.7,563.5 L704.9,558.9 L707.1,554.3 L709.3,549.7 L711.5,545.2 L713.8,540.7 L716.0,536.2 L718.2,531.7 L720.4,527.2 L722.6,522.7 L724.8,518.3 L727.1,513.9 L729.3,509.5 L731.5,505.1 L733.7,500.8 L735.9,496.5 L738.1,492.2 L740.3,487.9 L742.6,483.7 L744.8,479.5 L747.0,475.3 L749.2,471.1 L751.4,467.0 L753.6,462.9 L755.8,458.8 L758.1,454.8 L760.3,450.8 L762.5,446.8 L764.7,442.9 L766.9,439.0 L769.1,435.1 L771.4,431.2 L773.6,427.4 L775.8,423.6 L778.0,419.9 L780.2,416.1 L782.4,412.5 L784.6,408.8 L786.9,405.2 L789.1,401.6 L791.3,398.0 L793.5,394.5 L795.7,391.0 L797.9,387.6 L800.1,384.2 L802.4,380.8 L804.6,377.4 L806.8,374.1 L809.0,370.8 L811.2,367.6 L813.4,364.4 L815.7,361.2 L817.9,358.1 L820.1,355.0 L822.3,351.9 L824.5,348.9 L826.7,345.9 L828.9,343.0 L831.2,340.1 L833.4,337.2 L835.6,334.4 L837.8,331.6 L840.0,328.9 L842.2,326.2 L844.4,323.6 L846.7,321.0 L848.9,318.4 L851.1,315.9 L853.3,313.4 L855.5,311.0 L857.7,308.6 L860.0,306.3 L862.2,304.0 L864.4,301.8 L866.6,299.6 L868.8,297.4 L871.0,295.3 L873.2,293.2 L875.5,291.2 L877.7,289.2 L879.9,287.3 L882.1,285.4 L884.3,283.5 L886.5,281.7 L888.7,279.9 L891.0,278.2 L893.2,276.5 L895.4,274.8 L897.6,273.2 L899.8,271.7 L902.0,270.1 L904.2,268.6 L906.5,267.2 L908.7,265.8 L910.9,264.4 L913.1,263.1 L915.3,261.8 L917.5,260.6 L919.8,259.4 L922.0,258.2 L924.2,257.1 L926.4,256.0 L928.6,255.0 L930.8,254.0 L933.0,253.0 L935.3,252.1 L937.5,251.2 L939.7,250.4 L941.9,249.6 L944.1,248.8 L946.3,248.1 L948.6,247.3 L950.8,246.7 L953.0,246.0 L955.2,245.4 L957.4,244.8 L959.6,244.2 L961.8,243.7 L964.1,243.2 L966.3,242.7 L968.5,242.2 L970.7,241.8 L972.9,241.4 L975.1,240.9 L977.3,240.6 L979.6,240.2 L981.8,239.8 L984.0,239.5 L986.2,239.2 L988.4,238.9 L990.6,238.6 L992.9,238.3 L995.1,238.0 L997.3,237.8 L999.5,237.5 L1001.7,237.3 L1003.9,237.0 L1006.1,236.8 L1008.4,236.6 L1010.6,236.4 L1012.8,236.3 L1015.0,236.1 L1017.2,235.9 L1019.4,235.8 L1021.6,235.7 L1023.9,235.5 L1026.1,235.4 L1028.3,235.3 L1030.5,235.2 L1032.7,235.1 L1034.9,235.1 L1037.2,235.0 L1039.4,235.0 L1041.6,234.9 L1043.8,234.9 L1046.0,234.9 L1048.2,234.9 L1050.4,234.9 L1052.7,234.9 L1054.9,234.9 L1057.1,235.0 L1059.3,235.0 L1061.5,235.1 L1063.7,235.1 L1065.9,235.2 L1068.2,235.3 L1070.4,235.4 L1072.6,235.5 L1074.8,235.6 L1077.0,235.7 L1079.2,235.8 L1081.5,236.0 L1083.7,236.1 L1085.9,236.2 L1088.1,236.4 L1090.3,236.5 L1092.5,236.7 L1094.7,236.8 L1097.0,237.0 L1099.2,237.2 L1101.4,237.3 L1103.6,237.5 L1105.8,237.7 L1108.0,237.9 L1110.2,238.0 L1112.5,238.2 L1114.7,238.4 L1116.9,238.6 L1119.1,238.8 L1121.3,238.9 L1123.5,239.1 L1125.8,239.3 L1128.0,239.5 L1130.2,239.7 L1132.4,239.9 L1134.6,240.0 L1136.8,240.2 L1139.0,240.4 L1141.3,240.6 L1143.5,240.8 L1145.7,240.9 L1147.9,241.1 L1150.1,241.3 L1152.3,241.4 L1154.5,241.6 L1156.8,241.8 L1159.0,241.9 L1161.2,242.1 L1163.4,242.3 L1165.6,242.4 L1167.8,242.6 L1170.0,242.7 L1172.3,242.9 L1174.5,243.0 L1176.7,243.2 L1178.9,243.3 L1181.1,243.5 L1183.3,243.6 L1185.6,243.7 L1187.8,243.9 L1190.0,244.0 L1192.2,244.2 L1194.4,244.3 L1196.6,244.4 L1198.8,244.5 L1201.1,244.7 L1203.3,244.8 L1205.5,244.9 L1207.7,245.0 L1209.9,245.1 L1212.1,245.3 L1214.3,245.4 L1216.6,245.5 L1218.8,245.6 L1221.0,245.7 L1223.2,245.8 L1225.4,245.9 L1227.6,246.0 L1229.9,246.1 L1232.1,246.2 L1234.3,246.3 L1236.5,246.4 L1238.7,246.5 L1240.9,246.6 L1243.1,246.7 L1245.4,246.7 L1247.6,246.8 L1249.8,246.9 L1252.0,247.0 L1254.2,247.1 L1256.4,247.1 L1258.6,247.2 L1260.9,247.3 L1263.1,247.4 L1265.3,247.4 L1267.5,247.5 L1269.7,247.6 L1271.9,247.6 L1274.2,247.7 L1276.4,247.8 L1278.6,247.8 L1280.8,247.9 L1283.0,248.0 L1285.2,248.0 L1287.4,248.1 L1289.7,248.1 L1291.9,248.2 L1294.1,248.2 L1296.3,248.3 L1298.5,248.3 L1300.7,248.4 L1303.0,248.4 L1305.2,248.5 L1307.4,248.5 L1309.6,248.6 L1311.8,248.6 L1314.0,248.7 L1316.2,248.7 L1318.5,248.8 L1320.7,248.8 L1322.9,248.9 L1325.1,248.9 L1327.3,248.9 L1329.5,249.0 L1331.7,249.0 L1334.0,249.1 L1336.2,249.1 L1338.4,249.2 L1340.6,249.2 L1342.8,249.2 L1345.0,249.3 L1347.2,249.3 L1349.5,249.4 L1351.7,249.4 L1353.9,249.4 L1356.1,249.5 L1358.3,249.5 L1360.5,249.5 L1362.8,249.6 L1365.0,249.6 L1367.2,249.7 L1369.4,249.7 L1371.6,249.7 L1373.8,249.8 L1376.0,249.8 L1378.3,249.8 L1380.5,249.9 L1382.7,249.9 L1384.9,249.9 L1387.1,250.0 L1389.3,250.0 L1391.5,250.0 L1393.8,250.1 L1396.0,250.1 L1398.2,250.1 L1400.4,250.2 L1402.6,250.2 L1404.8,250.2 L1407.1,250.3 L1409.3,250.3 L1411.5,250.3 L1413.7,250.4 L1415.9,250.4 L1418.1,250.4 L1420.3,250.5 L1422.6,250.5 L1424.8,250.5 L1427.0,250.5 L1429.2,250.6 L1431.4,250.6 L1433.6,250.6 L1435.8,250.6 L1438.1,250.7 L1440.3,250.7 L1442.5,250.7 L1444.7,250.7 L1446.9,250.8 L1449.1,250.8 L1451.4,250.8 L1453.6,250.8 L1455.8,250.8 L1458.0,250.9 L1460.2,250.9 L1462.4,250.9 L1464.6,250.9 L1466.9,250.9 L1469.1,251.0 L1471.3,251.0 L1473.5,251.0 L1475.7,251.0 L1477.9,251.0 L1480.1,251.0 L1482.4,251.0 L1484.6,251.1 L1486.8,251.1 L1489.0,251.1 L1491.2,251.1 L1493.4,251.1 L1495.7,251.1 L1497.9,251.1 L1500.1,251.2 L1502.3,251.2 L1504.5,251.2 L1506.7,251.2 L1508.9,251.2 L1511.2,251.2 L1513.4,251.2 L1515.6,251.3 L1517.8,251.3 L1520.0,251.3 L1522.2,251.3 L1524.5,251.3 L1526.7,251.3 L1528.9,251.4 L1531.1,251.4 L1533.3,251.4 L1535.5,251.4 L1537.7,251.4 L1540.0,251.4 L1542.2,251.5 L1544.4,251.5 L1546.6,251.5 L1548.8,251.5 L1551.0,251.6 L1553.2,251.6 L1555.5,251.6 L1557.7,251.6 L1559.9,251.7 L1562.1,251.7 L1564.3,251.7 L1566.5,251.7 L1568.8,251.8 L1571.0,251.8 L1573.2,251.8 L1575.4,251.9 L1577.6,251.9 L1579.8,251.9 L1582.0,251.9 L1584.3,252.0 L1586.5,252.0 L1588.7,252.0 L1590.9,252.1 L1593.1,252.1 L1595.3,252.2 L1597.5,252.2 L1599.8,252.2 L1602.0,252.3 L1604.2,252.3 L1606.4,252.3 L1608.6,252.4 L1610.8,252.4 L1613.0,252.4 L1615.3,252.5 L1617.5,252.5 L1619.7,252.6 L1621.9,252.6 L1624.1,252.6 L1626.3,252.7 L1628.6,252.7 L1630.8,252.7 L1633.0,252.7 L1635.2,252.8 L1637.4,252.8 L1639.6,252.8 L1641.8,252.9 L1644.1,252.9 L1646.3,252.9 L1648.5,252.9 L1650.7,252.9 L1652.9,253.0 L1655.1,253.0 L1657.3,253.0 L1659.6,253.0 L1661.8,253.0 L1664.0,253.0 L1666.2,253.0 L1668.4,253.0 L1670.6,253.0 L1672.9,253.0 L1675.1,253.1 L1677.3,253.1 L1679.5,253.1 L1681.7,253.1 L1683.9,253.1 L1686.1,253.1 L1688.4,253.0 L1690.6,253.0 L1692.8,253.0 L1695.0,253.0 L1697.2,253.0 L1699.4,253.0 L1701.6,253.0 L1703.9,253.0 L1706.1,253.0 L1708.3,253.0 L1710.5,253.0 L1712.7,253.0 L1714.9,253.0 L1717.2,253.0 L1719.4,252.9 L1721.6,252.9 L1723.8,252.9 L1726.0,252.9 L1728.2,252.9 L1730.4,252.9 L1732.7,252.9 L1734.9,252.9 L1737.1,252.9 L1739.3,252.9 L1741.5,252.9 L1743.7,252.9 L1746.0,252.9 L1748.2,252.9 L1750.4,252.9 L1752.6,252.9 L1754.8,252.9 L1757.0,252.9 L1759.2,252.8 L1761.5,252.8 L1763.7,252.8 L1765.9,252.8 L1768.1,252.8 L1770.3,252.8 L1772.5,252.8 L1774.7,252.8 L1777.0,252.8 L1779.2,252.8 L1781.4,252.9 L1783.6,252.9 L1785.8,252.9 L1788.0,252.9 L1790.2,252.9 L1792.5,252.9 L1794.7,252.9 L1796.9,252.9 L1799.1,252.9 L1801.3,252.9 L1803.5,252.9 L1805.8,252.9 L1808.0,252.9 L1810.2,252.9 L1812.4,252.9 L1814.6,252.9 L1816.8,252.9 L1819.0,252.9 L1821.3,252.9 L1823.5,252.9 L1825.7,252.9 L1827.9,252.9 L1830.1,252.9 L1832.3,252.9 L1834.5,252.9 L1836.8,252.9 L1839.0,252.9 L1841.2,252.9 L1843.4,252.9 L1845.6,252.9 L1847.8,252.9 L1850.1,252.9 L1852.3,252.9 L1854.5,252.9 L1856.7,252.9 L1858.9,252.9 L1861.1,252.9 L1863.3,252.9 L1865.6,252.9 L1867.8,252.9 L1870.0,252.9 L1872.2,252.9 L1874.4,252.9 L1876.6,252.9 L1878.8,252.9 L1881.1,252.9 L1883.3,252.9 L1885.5,252.9 L1887.7,252.9 L1889.9,252.9 L1892.1,252.9 L1894.4,252.9 L1896.6,252.9 L1898.8,252.9 L1901.0,252.9 L1903.2,252.9 L1905.4,252.9 L1907.6,252.9 L1909.9,252.9 L1912.1,252.9 L1914.3,252.9 L1916.5,252.9 L1918.7,252.9 L1920.9,252.9 L1923.1,252.9 L1925.4,252.9 L1927.6,252.9 L1929.8,252.9 L1932.0,252.9 L1934.2,252.9 L1936.4,252.9 L1938.7,252.9 L1940.9,252.9 L1943.1,252.9 L1945.3,252.9 L1947.5,252.9 L1949.7,252.9 L1951.9,252.9 L1954.2,252.9 L1956.4,252.9 L1958.6,252.9 L1960.8,252.9 L1963.0,252.9 L1965.2,252.9 L1967.5,252.9 L1969.7,252.9 L1971.9,252.9 L1974.1,252.9 L1976.3,252.9 L1978.5,252.9 L1980.7,252.9 L1983.0,252.9 L1985.2,252.9 L1987.4,252.9 L1989.6,252.9" stroke="#7e2f8e" stroke-width="6.3" stroke-dasharray="6.3 12.6"/>
<path d="M217.6,1377.5 L219.8,1377.6 L222.0,1377.5 L224.2,1377.3 L226.5,1377.0 L228.7,1376.6 L230.9,1376.1 L233.1,1375.5 L235.3,1374.8 L237.5,1374.0 L239.8,1373.0 L242.0,1372.0 L244.2,1370.9 L246.4,1369.6 L248.6,1368.3 L250.8,1366.9 L253.0,1365.4 L255.3,1363.7 L257.5,1362.1 L259.7,1360.3 L261.9,1358.4 L264.1,1356.5 L266.3,1354.5 L268.5,1352.4 L270.8,1350.2 L273.0,1348.0 L275.2,1345.7 L277.4,1343.3 L279.6,1340.9 L281.8,1338.4 L284.1,1335.8 L286.3,1333.2 L288.5,1330.5 L290.7,1327.7 L292.9,1324.9 L295.1,1322.1 L297.3,1319.2 L299.6,1316.2 L301.8,1313.2 L304.0,1310.1 L306.2,1307.0 L308.4,1303.8 L310.6,1300.6 L312.8,1297.4 L315.1,1294.1 L317.3,1290.8 L319.5,1287.4 L321.7,1284.0 L323.9,1280.6 L326.1,1277.1 L328.4,1273.6 L330.6,1270.1 L332.8,1266.6 L335.0,1263.0 L337.2,1259.4 L339.4,1255.7 L341.6,1252.1 L343.9,1248.4 L346.1,1244.7 L348.3,1240.9 L350.5,1237.2 L352.7,1233.4 L354.9,1229.6 L357.1,1225.8 L359.4,1222.0 L361.6,1218.2 L363.8,1214.3 L366.0,1210.4 L368.2,1206.5 L370.4,1202.6 L372.6,1198.7 L374.9,1194.8 L377.1,1190.8 L379.3,1186.9 L381.5,1182.9 L383.7,1178.9 L385.9,1174.9 L388.2,1170.9 L390.4,1166.8 L392.6,1162.8 L394.8,1158.7 L397.0,1154.7 L399.2,1150.6 L401.4,1146.5 L403.7,1142.4 L405.9,1138.2 L408.1,1134.1 L410.3,1129.9 L412.5,1125.8 L414.7,1121.6 L416.9,1117.4 L419.2,1113.1 L421.4,1108.9 L423.6,1104.6 L425.8,1100.3 L428.0,1096.0 L430.2,1091.7 L432.5,1087.4 L434.7,1083.0 L436.9,1078.7 L439.1,1074.3 L441.3,1069.8 L443.5,1065.4 L445.7,1060.9 L448.0,1056.5 L450.2,1051.9 L452.4,1047.4 L454.6,1042.9 L456.8,1038.3 L459.0,1033.7 L461.2,1029.1 L463.5,1024.4 L465.7,1019.8 L467.9,1015.1 L470.1,1010.4 L472.3,1005.7 L474.5,1000.9 L476.8,996.2 L479.0,991.4 L481.2,986.6 L483.4,981.8 L485.6,977.0 L487.8,972.1 L490.0,967.3 L492.3,962.4 L494.5,957.5 L496.7,952.6 L498.9,947.7 L501.1,942.8 L503.3,937.8 L505.5,932.9 L507.8,928.0 L510.0,923.0 L512.2,918.0 L514.4,913.0 L516.6,908.1 L518.8,903.1 L521.1,898.1 L523.3,893.1 L525.5,888.1 L527.7,883.1 L529.9,878.0 L532.1,873.0 L534.3,868.0 L536.6,863.0 L538.8,857.9 L541.0,852.9 L543.2,847.8 L545.4,842.8 L547.6,837.7 L549.9,832.7 L552.1,827.6 L554.3,822.6 L556.5,817.5 L558.7,812.4 L560.9,807.4 L563.1,802.3 L565.4,797.2 L567.6,792.1 L569.8,787.0 L572.0,781.9 L574.2,776.8 L576.4,771.7 L578.6,766.6 L580.9,761.5 L583.1,756.4 L585.3,751.3 L587.5,746.2 L589.7,741.1 L591.9,736.0 L594.1,730.8 L596.4,725.7 L598.6,720.5 L600.8,715.4 L603.0,710.3 L605.2,705.1 L607.4,699.9 L609.7,694.8 L611.9,689.6 L614.1,684.4 L616.3,679.3 L618.5,674.1 L620.7,668.9 L622.9,663.7 L625.2,658.5 L627.4,653.3 L629.6,648.1 L631.8,642.9 L634.0,637.7 L636.2,632.5 L638.5,627.3 L640.7,622.1 L642.9,616.9 L645.1,611.7 L647.3,606.5 L649.5,601.3 L651.7,596.1 L654.0,590.9 L656.2,585.6 L658.4,580.4 L660.6,575.3 L662.8,570.1 L665.0,564.9 L667.2,559.7 L669.5,554.5 L671.7,549.4 L673.9,544.2 L676.1,539.1 L678.3,533.9 L680.5,528.8 L682.8,523.7 L685.0,518.6 L687.2,513.6 L689.4,508.5 L691.6,503.5 L693.8,498.5 L696.0,493.5 L698.3,488.5 L700.5,483.6 L702.7,478.6 L704.9,473.7 L707.1,468.9 L709.3,464.0 L711.5,459.2 L713.8,454.5 L716.0,449.7 L718.2,445.0 L720.4,440.3 L722.6,435.7 L724.8,431.1 L727.1,426.6 L729.3,422.0 L731.5,417.6 L733.7,413.2 L735.9,408.8 L738.1,404.5 L740.3,400.2 L742.6,395.9 L744.8,391.8 L747.0,387.6 L749.2,383.6 L751.4,379.5 L753.6,375.6 L755.8,371.7 L758.1,367.8 L760.3,364.0 L762.5,360.3 L764.7,356.6 L766.9,353.0 L769.1,349.4 L771.4,345.9 L773.6,342.5 L775.8,339.1 L778.0,335.8 L780.2,332.5 L782.4,329.3 L784.6,326.2 L786.9,323.1 L789.1,320.1 L791.3,317.2 L793.5,314.3 L795.7,311.5 L797.9,308.8 L800.1,306.1 L802.4,303.4 L804.6,300.9 L806.8,298.3 L809.0,295.9 L811.2,293.5 L813.4,291.2 L815.7,288.9 L817.9,286.7 L820.1,284.5 L822.3,282.4 L824.5,280.3 L826.7,278.3 L828.9,276.3 L831.2,274.4 L833.4,272.6 L835.6,270.8 L837.8,269.0 L840.0,267.3 L842.2,265.6 L844.4,264.0 L846.7,262.4 L848.9,260.9 L851.1,259.4 L853.3,258.0 L855.5,256.6 L857.7,255.3 L860.0,253.9 L862.2,252.7 L864.4,251.5 L866.6,250.3 L868.8,249.1 L871.0,248.1 L873.2,247.0 L875.5,246.0 L877.7,245.0 L879.9,244.1 L882.1,243.2 L884.3,242.4 L886.5,241.6 L888.7,240.8 L891.0,240.1 L893.2,239.4 L895.4,238.7 L897.6,238.1 L899.8,237.5 L902.0,237.0 L904.2,236.5 L906.5,236.0 L908.7,235.5 L910.9,235.1 L913.1,234.7 L915.3,234.4 L917.5,234.0 L919.8,233.7 L922.0,233.5 L924.2,233.2 L926.4,233.0 L928.6,232.8 L930.8,232.6 L933.0,232.4 L935.3,232.3 L937.5,232.2 L939.7,232.1 L941.9,232.0 L944.1,231.9 L946.3,231.9 L948.6,231.8 L950.8,231.8 L953.0,231.8 L955.2,231.8 L957.4,231.8 L959.6,231.8 L961.8,231.9 L964.1,231.9 L966.3,232.0 L968.5,232.0 L970.7,232.1 L972.9,232.2 L975.1,232.3 L977.3,232.4 L979.6,232.5 L981.8,232.6 L984.0,232.7 L986.2,232.8 L988.4,233.0 L990.6,233.1 L992.9,233.3 L995.1,233.4 L997.3,233.6 L999.5,233.8 L1001.7,233.9 L1003.9,234.1 L1006.1,234.3 L1008.4,234.5 L1010.6,234.7 L1012.8,234.9 L1015.0,235.1 L1017.2,235.3 L1019.4,235.5 L1021.6,235.7 L1023.9,235.9 L1026.1,236.2 L1028.3,236.4 L1030.5,236.6 L1032.7,236.8 L1034.9,237.1 L1037.2,237.3 L1039.4,237.5 L1041.6,237.8 L1043.8,238.0 L1046.0,238.2 L1048.2,238.5 L1050.4,238.7 L1052.7,238.9 L1054.9,239.2 L1057.1,239.4 L1059.3,239.6 L1061.5,239.9 L1063.7,240.1 L1065.9,240.3 L1068.2,240.5 L1070.4,240.8 L1072.6,241.0 L1074.8,241.2 L1077.0,241.4 L1079.2,241.7 L1081.5,241.9 L1083.7,242.1 L1085.9,242.3 L1088.1,242.5 L1090.3,242.7 L1092.5,242.9 L1094.7,243.1 L1097.0,243.3 L1099.2,243.5 L1101.4,243.7 L1103.6,243.8 L1105.8,244.0 L1108.0,244.2 L1110.2,244.4 L1112.5,244.5 L1114.7,244.7 L1116.9,244.9 L1119.1,245.0 L1121.3,245.2 L1123.5,245.4 L1125.8,245.5 L1128.0,245.7 L1130.2,245.8 L1132.4,245.9 L1134.6,246.1 L1136.8,246.2 L1139.0,246.4 L1141.3,246.5 L1143.5,246.6 L1145.7,246.7 L1147.9,246.9 L1150.1,247.0 L1152.3,247.1 L1154.5,247.2 L1156.8,247.3 L1159.0,247.5 L1161.2,247.6 L1163.4,247.7 L1165.6,247.8 L1167.8,247.9 L1170.0,248.0 L1172.3,248.1 L1174.5,248.2 L1176.7,248.3 L1178.9,248.4 L1181.1,248.5 L1183.3,248.6 L1185.6,248.7 L1187.8,248.8 L1190.0,248.9 L1192.2,249.0 L1194.4,249.1 L1196.6,249.2 L1198.8,249.3 L1201.1,249.3 L1203.3,249.4 L1205.5,249.5 L1207.7,249.6 L1209.9,249.7 L1212.1,249.8 L1214.3,249.9 L1216.6,250.0 L1218.8,250.0 L1221.0,250.1 L1223.2,250.2 L1225.4,250.3 L1227.6,250.4 L1229.9,250.4 L1232.1,250.5 L1234.3,250.6 L1236.5,250.7 L1238.7,250.7 L1240.9,250.8 L1243.1,250.9 L1245.4,250.9 L1247.6,251.0 L1249.8,251.1 L1252.0,251.2 L1254.2,251.2 L1256.4,251.3 L1258.6,251.3 L1260.9,251.4 L1263.1,251.5 L1265.3,251.5 L1267.5,251.6 L1269.7,251.6 L1271.9,251.7 L1274.2,251.8 L1276.4,251.8 L1278.6,251.9 L1280.8,251.9 L1283.0,252.0 L1285.2,252.0 L1287.4,252.0 L1289.7,252.1 L1291.9,252.1 L1294.1,252.2 L1296.3,252.2 L1298.5,252.3 L1300.7,252.3 L1303.0,252.3 L1305.2,252.4 L1307.4,252.4 L1309.6,252.4 L1311.8,252.5 L1314.0,252.5 L1316.2,252.5 L1318.5,252.5 L1320.7,252.6 L1322.9,252.6 L1325.1,252.6 L1327.3,252.6 L1329.5,252.7 L1331.7,252.7 L1334.0,252.7 L1336.2,252.7 L1338.4,252.7 L1340.6,252.7 L1342.8,252.8 L1345.0,252.8 L1347.2,252.8 L1349.5,252.8 L1351.7,252.8 L1353.9,252.8 L1356.1,252.8 L1358.3,252.8 L1360.5,252.8 L1362.8,252.9 L1365.0,252.9 L1367.2,252.9 L1369.4,252.9 L1371.6,252.9 L1373.8,252.9 L1376.0,252.9 L1378.3,252.9 L1380.5,252.9 L1382.7,252.9 L1384.9,252.9 L1387.1,252.9 L1389.3,252.9 L1391.5,252.9 L1393.8,252.9 L1396.0,252.9 L1398.2,252.9 L1400.4,252.9 L1402.6,252.9 L1404.8,252.9 L1407.1,252.9 L1409.3,252.9 L1411.5,252.9 L1413.7,252.9 L1415.9,252.9 L1418.1,252.9 L1420.3,252.9 L1422.6,252.9 L1424.8,252.9 L1427.0,252.9 L1429.2,252.9 L1431.4,252.9 L1433.6,252.9 L1435.8,252.9 L1438.1,252.9 L1440.3,252.9 L1442.5,252.9 L1444.7,252.9 L1446.9,252.9 L1449.1,252.9 L1451.4,252.9 L1453.6,252.9 L1455.8,252.9 L1458.0,252.9 L1460.2,252.9 L1462.4,252.9 L1464.6,252.9 L1466.9,252.9 L1469.1,252.9 L1471.3,252.9 L1473.5,252.9 L1475.7,252.9 L1477.9,252.9 L1480.1,252.9 L1482.4,252.9 L1484.6,252.9 L1486.8,252.9 L1489.0,252.9 L1491.2,252.9 L1493.4,252.9 L1495.7,252.9 L1497.9,252.9 L1500.1,252.9 L1502.3,252.9 L1504.5,252.9 L1506.7,252.9 L1508.9,252.9 L1511.2,252.9 L1513.4,252.9 L1515.6,252.9 L1517.8,252.9 L1520.0,252.9 L1522.2,252.9 L1524.5,252.9 L1526.7,252.9 L1528.9,252.9 L1531.1,252.9 L1533.3,252.9 L1535.5,252.9 L1537.7,252.9 L1540.0,252.9 L1542.2,252.9 L1544.4,252.9 L1546.6,252.9 L1548.8,252.9 L1551.0,252.9 L1553.2,252.9 L1555.5,252.9 L1557.7,252.9 L1559.9,252.9 L1562.1,252.9 L1564.3,252.9 L1566.5,252.9 L1568.8,252.9 L1571.0,252.9 L1573.2,252.9 L1575.4,252.9 L1577.6,252.9 L1579.8,252.9 L1582.0,252.9 L1584.3,252.9 L1586.5,252.9 L1588.7,252.9 L1590.9,252.9 L1593.1,252.9 L1595.3,252.9 L1597.5,252.9 L1599.8,252.9 L1602.0,252.9 L1604.2,252.9 L1606.4,252.9 L1608.6,252.9 L1610.8,252.9 L1613.0,252.9 L1615.3,252.9 L1617.5,252.9 L1619.7,252.9 L1621.9,252.9 L1624.1,252.9 L1626.3,252.9 L1628.6,252.9 L1630.8,252.9 L1633.0,252.9 L1635.2,252.9 L1637.4,252.9 L1639.6,252.9 L1641.8,252.9 L1644.1,252.9 L1646.3,252.9 L1648.5,252.9 L1650.7,252.9 L1652.9,252.9 L1655.1,252.9 L1657.3,252.9 L1659.6,252.9 L1661.8,252.9 L1664.0,252.9 L1666.2,252.9 L1668.4,252.9 L1670.6,252.9 L1672.9,252.9 L1675.1,252.9 L1677.3,252.9 L1679.5,252.9 L1681.7,252.9 L1683.9,252.9 L1686.1,252.9 L1688.4,252.9 L1690.6,252.9 L1692.8,252.9 L1695.0,252.9 L1697.2,252.9 L1699.4,252.9 L1701.6,252.9 L1703.9,252.9 L1706.1,252.9 L1708.3,252.9 L1710.5,252.9 L1712.7,252.9 L1714.9,252.9 L1717.2,252.9 L1719.4,252.9 L1721.6,252.9 L1723.8,252.9 L1726.0,252.9 L1728.2,252.9 L1730.4,252.9 L1732.7,252.9 L1734.9,252.9 L1737.1,252.9 L1739.3,252.9 L1741.5,252.9 L1743.7,252.9 L1746.0,252.9 L1748.2,252.9 L1750.4,252.9 L1752.6,252.9 L1754.8,252.9 L1757.0,252.9 L1759.2,252.9 L1761.5,252.9 L1763.7,252.9 L1765.9,252.9 L1768.1,252.9 L1770.3,252.9 L1772.5,252.9 L1774.7,252.9 L1777.0,252.9 L1779.2,252.9 L1781.4,252.9 L1783.6,252.9 L1785.8,252.9 L1788.0,252.9 L1790.2,252.9 L1792.5,252.9 L1794.7,252.9 L1796.9,252.9 L1799.1,252.9 L1801.3,252.9 L1803.5,252.9 L1805.8,252.9 L1808.0,252.9 L1810.2,252.9 L1812.4,252.9 L1814.6,252.9 L1816.8,252.9 L1819.0,252.9 L1821.3,252.9 L1823.5,252.9 L1825.7,252.9 L1827.9,252.9 L1830.1,252.9 L1832.3,252.9 L1834.5,252.9 L1836.8,252.9 L1839.0,252.9 L1841.2,252.9 L1843.4,252.9 L1845.6,252.9 L1847.8,252.9 L1850.1,252.9 L1852.3,252.9 L1854.5,252.9 L1856.7,252.9 L1858.9,252.9 L1861.1,252.9 L1863.3,252.9 L1865.6,252.9 L1867.8,252.9 L1870.0,252.9 L1872.2,252.9 L1874.4,252.9 L1876.6,252.9 L1878.8,252.9 L1881.1,252.9 L1883.3,252.9 L1885.5,252.9 L1887.7,252.9 L1889.9,252.9 L1892.1,252.9 L1894.4,252.9 L1896.6,252.9 L1898.8,252.9 L1901.0,252.9 L1903.2,252.9 L1905.4,252.9 L1907.6,252.9 L1909.9,252.9 L1912.1,252.9 L1914.3,252.9 L1916.5,252.9 L1918.7,252.9 L1920.9,252.9 L1923.1,252.9 L1925.4,252.9 L1927.6,252.9 L1929.8,252.9 L1932.0,252.9 L1934.2,252.9 L1936.4,252.9 L1938.7,252.9 L1940.9,252.9 L1943.1,252.9 L1945.3,252.9 L1947.5,252.9 L1949.7,252.9 L1951.9,252.9 L1954.2,252.9 L1956.4,252.9 L1958.6,252.9 L1960.8,252.9 L1963.0,252.9 L1965.2,252.9 L1967.5,252.9 L1969.7,252.9 L1971.9,252.9 L1974.1,252.9 L1976.3,252.9 L1978.5,252.9 L1980.7,252.9 L1983.0,252.9 L1985.2,252.9 L1987.4,252.9 L1989.6,252.9" stroke="#77ac30" stroke-width="6.3"/>
<path d="M217.6,252.9 H1989.6" stroke="#ff66ff" stroke-width="4.5" stroke-dasharray="29.5 21.3"/>
</g>
<text transform="translate(140.04,1397.20) scale(0.9531,1)" font-family="&quot;Liberation Sans&quot;, sans-serif" font-size="67" fill="#262626">0</text>
<text transform="translate(106.26,1172.10) scale(0.9483,1)" font-family="&quot;Liberation Sans&quot;, sans-serif" font-size="67" fill="#262626">0.2</text>
<text transform="translate(106.27,947.00) scale(0.9443,1)" font-family="&quot;Liberation Sans&quot;, sans-serif" font-size="67" fill="#262626">0.4</text>
<text transform="translate(106.21,722.60) scale(0.9621,1)" font-family="&quot;Liberation Sans&quot;, sans-serif" font-size="67" fill="#262626">0.6</text>
<text transform="translate(106.21,497.70) scale(0.9621,1)" font-family="&quot;Liberation Sans&quot;, sans-serif" font-size="67" fill="#262626">0.8</text>
<text transform="translate(141.10,271.50) scale(1.0000,1)" font-family="&quot;Liberation Sans&quot;, sans-serif" font-size="67" fill="#262626">1</text>
<text transform="translate(108.80,47.60) scale(0.9200,1)" font-family="&quot;Liberation Sans&quot;, sans-serif" font-size="67" fill="#262626">1.2</text>
<text transform="translate(200.60,1465.80) scale(1.0000,1)" font-family="&quot;Liberation Sans&quot;, sans-serif" font-size="67" fill="#262626">0</text>
<text transform="translate(422.20,1465.50) scale(1.0000,1)" font-family="&quot;Liberation Sans&quot;, sans-serif" font-size="67" fill="#262626">1</text>
<text transform="translate(642.60,1465.80) scale(1.0000,1)" font-family="&quot;Liberation Sans&quot;, sans-serif" font-size="67" fill="#262626">2</text>
<text transform="translate(864.50,1465.80) scale(1.0000,1)" font-family="&quot;Liberation Sans&quot;, sans-serif" font-size="67" fill="#262626">3</text>
<text transform="translate(1085.50,1465.80) scale(1.0000,1)" font-family="&quot;Liberation Sans&quot;, sans-serif" font-size="67" fill="#262626">4</text>
<text transform="translate(1307.75,1465.80) scale(1.0000,1)" font-family="&quot;Liberation Sans&quot;, sans-serif" font-size="67" fill="#262626">5</text>
<text transform="translate(1528.80,1465.80) scale(1.0000,1)" font-family="&quot;Liberation Sans&quot;, sans-serif" font-size="67" fill="#262626">6</text>
<text transform="translate(1750.15,1465.80) scale(1.0000,1)" font-family="&quot;Liberation Sans&quot;, sans-serif" font-size="67" fill="#262626">7</text>
<text transform="translate(1972.55,1465.80) scale(1.0000,1)" font-family="&quot;Liberation Sans&quot;, sans-serif" font-size="67" fill="#262626">8</text>
<text transform="translate(975.62,1556.00) scale(0.9902,1)" font-family="&quot;Liberation Sans&quot;, sans-serif" font-size="72" fill="#262626">Time (s)</text>
<text transform="translate(53.70,1102.31) rotate(-90) scale(0.9774,1)" font-family="&quot;Liberation Sans&quot;, sans-serif" font-size="72" fill="#262626">Change of liquid level (m)</text>
<path d="M1024.6,613.4 H1154.5" stroke="#0000ff" stroke-width="9.3" fill="none" stroke-linecap="round"/>
<text transform="translate(1200.46,631.20) scale(0.9714,1)" font-family="&quot;Liberation Sans&quot;, sans-serif" font-size="59" fill="#000000" stroke="#000000" stroke-width="1.3" stroke-linejoin="round">SFOA-based exp-PID</text>
<path d="M1024.6,687.1 H1154.5" stroke="#ff0000" stroke-width="6.3" fill="none" stroke-linecap="round"/>
<text transform="translate(1201.53,704.90) scale(0.9688,1)" font-family="&quot;Liberation Sans&quot;, sans-serif" font-size="59" fill="#000000" stroke="#000000" stroke-width="1.3" stroke-linejoin="round">FLA-based exp-PID</text>
<path d="M1024.6,760.8 H1154.5" stroke="#000000" stroke-width="6.4" fill="none" stroke-linecap="round" stroke-dasharray="44 31.7"/>
<text transform="translate(1196.56,778.30) scale(0.9689,1)" font-family="&quot;Liberation Sans&quot;, sans-serif" font-size="59" fill="#000000" stroke="#000000" stroke-width="1.3" stroke-linejoin="round">GCRA-based exp-PID</text>
<path d="M1024.6,834.5 H1154.5" stroke="#7e2f8e" stroke-width="6.3" fill="none" stroke-linecap="round" stroke-dasharray="6.3 12.6"/>
<text transform="translate(1199.42,851.50) scale(0.9699,1)" font-family="&quot;Liberation Sans&quot;, sans-serif" font-size="59" fill="#000000" stroke="#000000" stroke-width="1.3" stroke-linejoin="round">MSA-based exp-PID</text>
<path d="M1024.6,908.2 H1154.5" stroke="#77ac30" stroke-width="6.3" fill="none" stroke-linecap="round"/>
<text transform="translate(1199.42,925.90) scale(0.9697,1)" font-family="&quot;Liberation Sans&quot;, sans-serif" font-size="59" fill="#000000" stroke="#000000" stroke-width="1.3" stroke-linejoin="round">DO-based exp-PID</text>
<path d="M1024.6,981.9 H1154.5" stroke="#ff66ff" stroke-width="4.5" fill="none" stroke-linecap="round" stroke-dasharray="29.5 21.3"/>
<text transform="translate(1203.62,1000.60) scale(0.9708,1)" font-family="&quot;Liberation Sans&quot;, sans-serif" font-size="59" fill="#000000" stroke="#000000" stroke-width="1.3" stroke-linejoin="round">Level setpoint</text>
</svg>
</body></html>
